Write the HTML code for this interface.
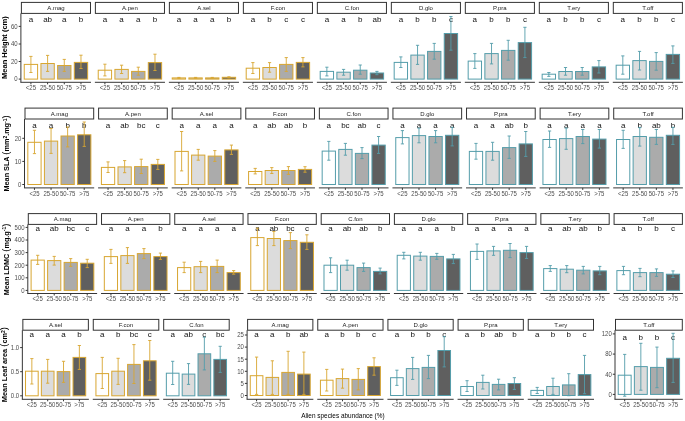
<!DOCTYPE html>
<html><head><meta charset="utf-8"><style>
html,body{margin:0;padding:0;background:#fff;}
svg{display:block;}
svg{will-change:transform;}
text{font-family:"Liberation Sans",sans-serif;}
.tl{font-size:6.9px;fill:#4D4D4D;}
.st{font-size:6px;fill:#1a1a1a;}
.lt{font-size:8px;fill:#111;}
.yt{font-weight:bold;fill:#000;}
.par{font-weight:normal;font-size:9.5px;}
.sup{font-size:5px;}
.xt{font-size:8px;fill:#000;}
</style></head><body>
<svg width="685" height="421" viewBox="0 0 685 421">
<rect width="685" height="421" fill="#fff"/>
<line x1="20.9" y1="13.4" x2="20.9" y2="82.3" stroke="#363636" stroke-width="1"/>
<line x1="18.7" y1="79.1" x2="20.9" y2="79.1" stroke="#363636" stroke-width="1"/>
<text transform="translate(17.7,81.4) scale(0.87,1)" text-anchor="end" class="tl">0</text>
<line x1="18.7" y1="61.5" x2="20.9" y2="61.5" stroke="#363636" stroke-width="1"/>
<text transform="translate(17.7,63.8) scale(0.87,1)" text-anchor="end" class="tl">20</text>
<line x1="18.7" y1="44" x2="20.9" y2="44" stroke="#363636" stroke-width="1"/>
<text transform="translate(17.7,46.3) scale(0.87,1)" text-anchor="end" class="tl">40</text>
<line x1="18.7" y1="26.4" x2="20.9" y2="26.4" stroke="#363636" stroke-width="1"/>
<text transform="translate(17.7,28.7) scale(0.87,1)" text-anchor="end" class="tl">60</text>
<rect x="21.4" y="2.4" width="69.09" height="11" fill="#fff" stroke="#333" stroke-width="1"/>
<text x="55.94" y="9.9" text-anchor="middle" class="st">A.mag</text>
<line x1="20.4" y1="82.3" x2="90.99" y2="82.3" stroke="#363636" stroke-width="1"/>
<text x="30.91" y="21.8" text-anchor="middle" class="lt">a</text>
<text x="47.6" y="21.8" text-anchor="middle" class="lt">ab</text>
<text x="64.29" y="21.8" text-anchor="middle" class="lt">a</text>
<text x="80.98" y="21.8" text-anchor="middle" class="lt">b</text>
<rect x="24.24" y="64.4" width="13.35" height="14.7" fill="#FFFFFF" stroke="#D8A631" stroke-width="1"/>
<path d="M29.31 56.4H32.51M30.91 56.4V72.5M29.31 72.5H32.51" stroke="#D8A631" stroke-width="0.9" fill="none"/>
<line x1="30.91" y1="82.3" x2="30.91" y2="84.3" stroke="#363636" stroke-width="1"/>
<text transform="translate(30.91,89.5) scale(0.87,1)" text-anchor="middle" class="tl">&lt;25</text>
<rect x="40.93" y="63.5" width="13.35" height="15.6" fill="#DCDCDC" stroke="#D8A631" stroke-width="1"/>
<path d="M46 55.4H49.2M47.6 55.4V71.4M46 71.4H49.2" stroke="#D8A631" stroke-width="0.9" fill="none"/>
<line x1="47.6" y1="82.3" x2="47.6" y2="84.3" stroke="#363636" stroke-width="1"/>
<text transform="translate(47.6,89.5) scale(0.87,1)" text-anchor="middle" class="tl">25-50</text>
<rect x="57.61" y="65.5" width="13.35" height="13.6" fill="#ABABAB" stroke="#D8A631" stroke-width="1"/>
<path d="M62.69 59.4H65.89M64.29 59.4V71.4M62.69 71.4H65.89" stroke="#D8A631" stroke-width="0.9" fill="none"/>
<line x1="64.29" y1="82.3" x2="64.29" y2="84.3" stroke="#363636" stroke-width="1"/>
<text transform="translate(64.29,89.5) scale(0.87,1)" text-anchor="middle" class="tl">50-75</text>
<rect x="74.3" y="62.4" width="13.35" height="16.7" fill="#5F5F5F" stroke="#D8A631" stroke-width="1"/>
<path d="M79.38 55.2H82.58M80.98 55.2V68.5M79.38 68.5H82.58" stroke="#D8A631" stroke-width="0.9" fill="none"/>
<line x1="80.98" y1="82.3" x2="80.98" y2="84.3" stroke="#363636" stroke-width="1"/>
<text transform="translate(80.98,89.5) scale(0.87,1)" text-anchor="middle" class="tl">&gt;75</text>
<rect x="95.39" y="2.4" width="69.09" height="11" fill="#fff" stroke="#333" stroke-width="1"/>
<text x="129.93" y="9.9" text-anchor="middle" class="st">A.pen</text>
<line x1="94.89" y1="82.3" x2="164.98" y2="82.3" stroke="#363636" stroke-width="1"/>
<text x="104.9" y="21.8" text-anchor="middle" class="lt">a</text>
<text x="121.59" y="21.8" text-anchor="middle" class="lt">a</text>
<text x="138.28" y="21.8" text-anchor="middle" class="lt">a</text>
<text x="154.97" y="21.8" text-anchor="middle" class="lt">b</text>
<rect x="98.23" y="70.2" width="13.35" height="8.9" fill="#FFFFFF" stroke="#D8A631" stroke-width="1"/>
<path d="M103.3 64.2H106.5M104.9 64.2V75.9M103.3 75.9H106.5" stroke="#D8A631" stroke-width="0.9" fill="none"/>
<line x1="104.9" y1="82.3" x2="104.9" y2="84.3" stroke="#363636" stroke-width="1"/>
<text transform="translate(104.9,89.5) scale(0.87,1)" text-anchor="middle" class="tl">&lt;25</text>
<rect x="114.91" y="69.4" width="13.35" height="9.7" fill="#DCDCDC" stroke="#D8A631" stroke-width="1"/>
<path d="M119.99 65.2H123.19M121.59 65.2V73.5M119.99 73.5H123.19" stroke="#D8A631" stroke-width="0.9" fill="none"/>
<line x1="121.59" y1="82.3" x2="121.59" y2="84.3" stroke="#363636" stroke-width="1"/>
<text transform="translate(121.59,89.5) scale(0.87,1)" text-anchor="middle" class="tl">25-50</text>
<rect x="131.6" y="71.4" width="13.35" height="7.7" fill="#ABABAB" stroke="#D8A631" stroke-width="1"/>
<path d="M136.68 67.2H139.88M138.28 67.2V75.2M136.68 75.2H139.88" stroke="#D8A631" stroke-width="0.9" fill="none"/>
<line x1="138.28" y1="82.3" x2="138.28" y2="84.3" stroke="#363636" stroke-width="1"/>
<text transform="translate(138.28,89.5) scale(0.87,1)" text-anchor="middle" class="tl">50-75</text>
<rect x="148.29" y="62.6" width="13.35" height="16.5" fill="#5F5F5F" stroke="#D8A631" stroke-width="1"/>
<path d="M153.37 54.2H156.57M154.97 54.2V70.5M153.37 70.5H156.57" stroke="#D8A631" stroke-width="0.9" fill="none"/>
<line x1="154.97" y1="82.3" x2="154.97" y2="84.3" stroke="#363636" stroke-width="1"/>
<text transform="translate(154.97,89.5) scale(0.87,1)" text-anchor="middle" class="tl">&gt;75</text>
<rect x="169.38" y="2.4" width="69.09" height="11" fill="#fff" stroke="#333" stroke-width="1"/>
<text x="203.92" y="9.9" text-anchor="middle" class="st">A.sel</text>
<line x1="168.88" y1="82.3" x2="238.97" y2="82.3" stroke="#363636" stroke-width="1"/>
<text x="178.89" y="21.8" text-anchor="middle" class="lt">a</text>
<text x="195.58" y="21.8" text-anchor="middle" class="lt">a</text>
<text x="212.27" y="21.8" text-anchor="middle" class="lt">a</text>
<text x="228.95" y="21.8" text-anchor="middle" class="lt">b</text>
<rect x="172.22" y="77.9" width="13.35" height="1.2" fill="#FFFFFF" stroke="#D8A631" stroke-width="1"/>
<path d="M177.29 77.4H180.49M178.89 77.4V78.4M177.29 78.4H180.49" stroke="#D8A631" stroke-width="0.9" fill="none"/>
<line x1="178.89" y1="82.3" x2="178.89" y2="84.3" stroke="#363636" stroke-width="1"/>
<text transform="translate(178.89,89.5) scale(0.87,1)" text-anchor="middle" class="tl">&lt;25</text>
<rect x="188.9" y="77.9" width="13.35" height="1.2" fill="#DCDCDC" stroke="#D8A631" stroke-width="1"/>
<path d="M193.98 77.4H197.18M195.58 77.4V78.4M193.98 78.4H197.18" stroke="#D8A631" stroke-width="0.9" fill="none"/>
<line x1="195.58" y1="82.3" x2="195.58" y2="84.3" stroke="#363636" stroke-width="1"/>
<text transform="translate(195.58,89.5) scale(0.87,1)" text-anchor="middle" class="tl">25-50</text>
<rect x="205.59" y="77.9" width="13.35" height="1.2" fill="#ABABAB" stroke="#D8A631" stroke-width="1"/>
<path d="M210.67 77.4H213.87M212.27 77.4V78.4M210.67 78.4H213.87" stroke="#D8A631" stroke-width="0.9" fill="none"/>
<line x1="212.27" y1="82.3" x2="212.27" y2="84.3" stroke="#363636" stroke-width="1"/>
<text transform="translate(212.27,89.5) scale(0.87,1)" text-anchor="middle" class="tl">50-75</text>
<rect x="222.28" y="77.3" width="13.35" height="1.8" fill="#5F5F5F" stroke="#D8A631" stroke-width="1"/>
<path d="M227.35 76.8H230.55M228.95 76.8V77.9M227.35 77.9H230.55" stroke="#D8A631" stroke-width="0.9" fill="none"/>
<line x1="228.95" y1="82.3" x2="228.95" y2="84.3" stroke="#363636" stroke-width="1"/>
<text transform="translate(228.95,89.5) scale(0.87,1)" text-anchor="middle" class="tl">&gt;75</text>
<rect x="243.37" y="2.4" width="69.09" height="11" fill="#fff" stroke="#333" stroke-width="1"/>
<text x="277.91" y="9.9" text-anchor="middle" class="st">F.con</text>
<line x1="242.87" y1="82.3" x2="312.96" y2="82.3" stroke="#363636" stroke-width="1"/>
<text x="252.88" y="21.8" text-anchor="middle" class="lt">a</text>
<text x="269.57" y="21.8" text-anchor="middle" class="lt">b</text>
<text x="286.26" y="21.8" text-anchor="middle" class="lt">c</text>
<text x="302.94" y="21.8" text-anchor="middle" class="lt">c</text>
<rect x="246.2" y="68.2" width="13.35" height="10.9" fill="#FFFFFF" stroke="#D8A631" stroke-width="1"/>
<path d="M251.28 62.6H254.48M252.88 62.6V73.5M251.28 73.5H254.48" stroke="#D8A631" stroke-width="0.9" fill="none"/>
<line x1="252.88" y1="82.3" x2="252.88" y2="84.3" stroke="#363636" stroke-width="1"/>
<text transform="translate(252.88,89.5) scale(0.87,1)" text-anchor="middle" class="tl">&lt;25</text>
<rect x="262.89" y="67.5" width="13.35" height="11.6" fill="#DCDCDC" stroke="#D8A631" stroke-width="1"/>
<path d="M267.97 62.6H271.17M269.57 62.6V72.2M267.97 72.2H271.17" stroke="#D8A631" stroke-width="0.9" fill="none"/>
<line x1="269.57" y1="82.3" x2="269.57" y2="84.3" stroke="#363636" stroke-width="1"/>
<text transform="translate(269.57,89.5) scale(0.87,1)" text-anchor="middle" class="tl">25-50</text>
<rect x="279.58" y="64.4" width="13.35" height="14.7" fill="#ABABAB" stroke="#D8A631" stroke-width="1"/>
<path d="M284.66 57.6H287.86M286.26 57.6V71.4M284.66 71.4H287.86" stroke="#D8A631" stroke-width="0.9" fill="none"/>
<line x1="286.26" y1="82.3" x2="286.26" y2="84.3" stroke="#363636" stroke-width="1"/>
<text transform="translate(286.26,89.5) scale(0.87,1)" text-anchor="middle" class="tl">50-75</text>
<rect x="296.27" y="62.4" width="13.35" height="16.7" fill="#5F5F5F" stroke="#D8A631" stroke-width="1"/>
<path d="M301.34 57.6H304.54M302.94 57.6V66.9M301.34 66.9H304.54" stroke="#D8A631" stroke-width="0.9" fill="none"/>
<line x1="302.94" y1="82.3" x2="302.94" y2="84.3" stroke="#363636" stroke-width="1"/>
<text transform="translate(302.94,89.5) scale(0.87,1)" text-anchor="middle" class="tl">&gt;75</text>
<rect x="317.36" y="2.4" width="69.09" height="11" fill="#fff" stroke="#333" stroke-width="1"/>
<text x="351.9" y="9.9" text-anchor="middle" class="st">C.fon</text>
<line x1="316.86" y1="82.3" x2="386.94" y2="82.3" stroke="#363636" stroke-width="1"/>
<text x="326.87" y="21.8" text-anchor="middle" class="lt">a</text>
<text x="343.56" y="21.8" text-anchor="middle" class="lt">a</text>
<text x="360.24" y="21.8" text-anchor="middle" class="lt">b</text>
<text x="376.93" y="21.8" text-anchor="middle" class="lt">ab</text>
<rect x="320.19" y="71.4" width="13.35" height="7.7" fill="#FFFFFF" stroke="#549DAA" stroke-width="1"/>
<path d="M325.27 67.2H328.47M326.87 67.2V75.9M325.27 75.9H328.47" stroke="#549DAA" stroke-width="0.9" fill="none"/>
<line x1="326.87" y1="82.3" x2="326.87" y2="84.3" stroke="#363636" stroke-width="1"/>
<text transform="translate(326.87,89.5) scale(0.87,1)" text-anchor="middle" class="tl">&lt;25</text>
<rect x="336.88" y="72.2" width="13.35" height="6.9" fill="#DCDCDC" stroke="#549DAA" stroke-width="1"/>
<path d="M341.96 69.4H345.16M343.56 69.4V75.2M341.96 75.2H345.16" stroke="#549DAA" stroke-width="0.9" fill="none"/>
<line x1="343.56" y1="82.3" x2="343.56" y2="84.3" stroke="#363636" stroke-width="1"/>
<text transform="translate(343.56,89.5) scale(0.87,1)" text-anchor="middle" class="tl">25-50</text>
<rect x="353.57" y="70.2" width="13.35" height="8.9" fill="#ABABAB" stroke="#549DAA" stroke-width="1"/>
<path d="M358.64 65H361.84M360.24 65V74.2M358.64 74.2H361.84" stroke="#549DAA" stroke-width="0.9" fill="none"/>
<line x1="360.24" y1="82.3" x2="360.24" y2="84.3" stroke="#363636" stroke-width="1"/>
<text transform="translate(360.24,89.5) scale(0.87,1)" text-anchor="middle" class="tl">50-75</text>
<rect x="370.26" y="73" width="13.35" height="6.1" fill="#5F5F5F" stroke="#549DAA" stroke-width="1"/>
<path d="M375.33 71.4H378.53M376.93 71.4V74.7M375.33 74.7H378.53" stroke="#549DAA" stroke-width="0.9" fill="none"/>
<line x1="376.93" y1="82.3" x2="376.93" y2="84.3" stroke="#363636" stroke-width="1"/>
<text transform="translate(376.93,89.5) scale(0.87,1)" text-anchor="middle" class="tl">&gt;75</text>
<rect x="391.34" y="2.4" width="69.09" height="11" fill="#fff" stroke="#333" stroke-width="1"/>
<text x="425.89" y="9.9" text-anchor="middle" class="st">D.glo</text>
<line x1="390.84" y1="82.3" x2="460.93" y2="82.3" stroke="#363636" stroke-width="1"/>
<text x="400.86" y="21.8" text-anchor="middle" class="lt">a</text>
<text x="417.54" y="21.8" text-anchor="middle" class="lt">b</text>
<text x="434.23" y="21.8" text-anchor="middle" class="lt">b</text>
<text x="450.92" y="21.8" text-anchor="middle" class="lt">c</text>
<rect x="394.18" y="62.4" width="13.35" height="16.7" fill="#FFFFFF" stroke="#549DAA" stroke-width="1"/>
<path d="M399.26 56.9H402.46M400.86 56.9V67.5M399.26 67.5H402.46" stroke="#549DAA" stroke-width="0.9" fill="none"/>
<line x1="400.86" y1="82.3" x2="400.86" y2="84.3" stroke="#363636" stroke-width="1"/>
<text transform="translate(400.86,89.5) scale(0.87,1)" text-anchor="middle" class="tl">&lt;25</text>
<rect x="410.87" y="55.1" width="13.35" height="24" fill="#DCDCDC" stroke="#549DAA" stroke-width="1"/>
<path d="M415.94 45.3H419.14M417.54 45.3V64.4M415.94 64.4H419.14" stroke="#549DAA" stroke-width="0.9" fill="none"/>
<line x1="417.54" y1="82.3" x2="417.54" y2="84.3" stroke="#363636" stroke-width="1"/>
<text transform="translate(417.54,89.5) scale(0.87,1)" text-anchor="middle" class="tl">25-50</text>
<rect x="427.56" y="51.4" width="13.35" height="27.7" fill="#ABABAB" stroke="#549DAA" stroke-width="1"/>
<path d="M432.63 43.4H435.83M434.23 43.4V59.2M432.63 59.2H435.83" stroke="#549DAA" stroke-width="0.9" fill="none"/>
<line x1="434.23" y1="82.3" x2="434.23" y2="84.3" stroke="#363636" stroke-width="1"/>
<text transform="translate(434.23,89.5) scale(0.87,1)" text-anchor="middle" class="tl">50-75</text>
<rect x="444.25" y="33.5" width="13.35" height="45.6" fill="#5F5F5F" stroke="#549DAA" stroke-width="1"/>
<path d="M449.32 16.5H452.52M450.92 16.5V50.2M449.32 50.2H452.52" stroke="#549DAA" stroke-width="0.9" fill="none"/>
<line x1="450.92" y1="82.3" x2="450.92" y2="84.3" stroke="#363636" stroke-width="1"/>
<text transform="translate(450.92,89.5) scale(0.87,1)" text-anchor="middle" class="tl">&gt;75</text>
<rect x="465.33" y="2.4" width="69.09" height="11" fill="#fff" stroke="#333" stroke-width="1"/>
<text x="499.88" y="9.9" text-anchor="middle" class="st">P.pra</text>
<line x1="464.83" y1="82.3" x2="534.92" y2="82.3" stroke="#363636" stroke-width="1"/>
<text x="474.85" y="21.8" text-anchor="middle" class="lt">a</text>
<text x="491.53" y="21.8" text-anchor="middle" class="lt">b</text>
<text x="508.22" y="21.8" text-anchor="middle" class="lt">b</text>
<text x="524.91" y="21.8" text-anchor="middle" class="lt">c</text>
<rect x="468.17" y="61.1" width="13.35" height="18" fill="#FFFFFF" stroke="#549DAA" stroke-width="1"/>
<path d="M473.25 53.6H476.45M474.85 53.6V68.4M473.25 68.4H476.45" stroke="#549DAA" stroke-width="0.9" fill="none"/>
<line x1="474.85" y1="82.3" x2="474.85" y2="84.3" stroke="#363636" stroke-width="1"/>
<text transform="translate(474.85,89.5) scale(0.87,1)" text-anchor="middle" class="tl">&lt;25</text>
<rect x="484.86" y="53.6" width="13.35" height="25.5" fill="#DCDCDC" stroke="#549DAA" stroke-width="1"/>
<path d="M489.93 43.4H493.13M491.53 43.4V63.9M489.93 63.9H493.13" stroke="#549DAA" stroke-width="0.9" fill="none"/>
<line x1="491.53" y1="82.3" x2="491.53" y2="84.3" stroke="#363636" stroke-width="1"/>
<text transform="translate(491.53,89.5) scale(0.87,1)" text-anchor="middle" class="tl">25-50</text>
<rect x="501.55" y="50.4" width="13.35" height="28.7" fill="#ABABAB" stroke="#549DAA" stroke-width="1"/>
<path d="M506.62 40.3H509.82M508.22 40.3V60.2M506.62 60.2H509.82" stroke="#549DAA" stroke-width="0.9" fill="none"/>
<line x1="508.22" y1="82.3" x2="508.22" y2="84.3" stroke="#363636" stroke-width="1"/>
<text transform="translate(508.22,89.5) scale(0.87,1)" text-anchor="middle" class="tl">50-75</text>
<rect x="518.23" y="42.6" width="13.35" height="36.5" fill="#5F5F5F" stroke="#549DAA" stroke-width="1"/>
<path d="M523.31 27.3H526.51M524.91 27.3V57.6M523.31 57.6H526.51" stroke="#549DAA" stroke-width="0.9" fill="none"/>
<line x1="524.91" y1="82.3" x2="524.91" y2="84.3" stroke="#363636" stroke-width="1"/>
<text transform="translate(524.91,89.5) scale(0.87,1)" text-anchor="middle" class="tl">&gt;75</text>
<rect x="539.32" y="2.4" width="69.09" height="11" fill="#fff" stroke="#333" stroke-width="1"/>
<text x="573.87" y="9.9" text-anchor="middle" class="st">T.ery</text>
<line x1="538.82" y1="82.3" x2="608.91" y2="82.3" stroke="#363636" stroke-width="1"/>
<text x="548.83" y="21.8" text-anchor="middle" class="lt">a</text>
<text x="565.52" y="21.8" text-anchor="middle" class="lt">b</text>
<text x="582.21" y="21.8" text-anchor="middle" class="lt">b</text>
<text x="598.9" y="21.8" text-anchor="middle" class="lt">c</text>
<rect x="542.16" y="74.2" width="13.35" height="4.9" fill="#FFFFFF" stroke="#549DAA" stroke-width="1"/>
<path d="M547.23 72.5H550.43M548.83 72.5V76.4M547.23 76.4H550.43" stroke="#549DAA" stroke-width="0.9" fill="none"/>
<line x1="548.83" y1="82.3" x2="548.83" y2="84.3" stroke="#363636" stroke-width="1"/>
<text transform="translate(548.83,89.5) scale(0.87,1)" text-anchor="middle" class="tl">&lt;25</text>
<rect x="558.85" y="71.5" width="13.35" height="7.6" fill="#DCDCDC" stroke="#549DAA" stroke-width="1"/>
<path d="M563.92 67.5H567.12M565.52 67.5V75.2M563.92 75.2H567.12" stroke="#549DAA" stroke-width="0.9" fill="none"/>
<line x1="565.52" y1="82.3" x2="565.52" y2="84.3" stroke="#363636" stroke-width="1"/>
<text transform="translate(565.52,89.5) scale(0.87,1)" text-anchor="middle" class="tl">25-50</text>
<rect x="575.54" y="71.5" width="13.35" height="7.6" fill="#ABABAB" stroke="#549DAA" stroke-width="1"/>
<path d="M580.61 67.5H583.81M582.21 67.5V75.2M580.61 75.2H583.81" stroke="#549DAA" stroke-width="0.9" fill="none"/>
<line x1="582.21" y1="82.3" x2="582.21" y2="84.3" stroke="#363636" stroke-width="1"/>
<text transform="translate(582.21,89.5) scale(0.87,1)" text-anchor="middle" class="tl">50-75</text>
<rect x="592.22" y="66.9" width="13.35" height="12.2" fill="#5F5F5F" stroke="#549DAA" stroke-width="1"/>
<path d="M597.3 60.6H600.5M598.9 60.6V73M597.3 73H600.5" stroke="#549DAA" stroke-width="0.9" fill="none"/>
<line x1="598.9" y1="82.3" x2="598.9" y2="84.3" stroke="#363636" stroke-width="1"/>
<text transform="translate(598.9,89.5) scale(0.87,1)" text-anchor="middle" class="tl">&gt;75</text>
<rect x="613.31" y="2.4" width="69.09" height="11" fill="#fff" stroke="#333" stroke-width="1"/>
<text x="647.86" y="9.9" text-anchor="middle" class="st">T.off</text>
<line x1="612.81" y1="82.3" x2="682.9" y2="82.3" stroke="#363636" stroke-width="1"/>
<text x="622.82" y="21.8" text-anchor="middle" class="lt">a</text>
<text x="639.51" y="21.8" text-anchor="middle" class="lt">b</text>
<text x="656.2" y="21.8" text-anchor="middle" class="lt">b</text>
<text x="672.89" y="21.8" text-anchor="middle" class="lt">c</text>
<rect x="616.15" y="65.2" width="13.35" height="13.9" fill="#FFFFFF" stroke="#549DAA" stroke-width="1"/>
<path d="M621.22 55.9H624.42M622.82 55.9V74.2M621.22 74.2H624.42" stroke="#549DAA" stroke-width="0.9" fill="none"/>
<line x1="622.82" y1="82.3" x2="622.82" y2="84.3" stroke="#363636" stroke-width="1"/>
<text transform="translate(622.82,89.5) scale(0.87,1)" text-anchor="middle" class="tl">&lt;25</text>
<rect x="632.84" y="60.6" width="13.35" height="18.5" fill="#DCDCDC" stroke="#549DAA" stroke-width="1"/>
<path d="M637.91 51.4H641.11M639.51 51.4V70M637.91 70H641.11" stroke="#549DAA" stroke-width="0.9" fill="none"/>
<line x1="639.51" y1="82.3" x2="639.51" y2="84.3" stroke="#363636" stroke-width="1"/>
<text transform="translate(639.51,89.5) scale(0.87,1)" text-anchor="middle" class="tl">25-50</text>
<rect x="649.52" y="61.4" width="13.35" height="17.7" fill="#ABABAB" stroke="#549DAA" stroke-width="1"/>
<path d="M654.6 52.6H657.8M656.2 52.6V70.2M654.6 70.2H657.8" stroke="#549DAA" stroke-width="0.9" fill="none"/>
<line x1="656.2" y1="82.3" x2="656.2" y2="84.3" stroke="#363636" stroke-width="1"/>
<text transform="translate(656.2,89.5) scale(0.87,1)" text-anchor="middle" class="tl">50-75</text>
<rect x="666.21" y="54.4" width="13.35" height="24.7" fill="#5F5F5F" stroke="#549DAA" stroke-width="1"/>
<path d="M671.29 45.9H674.49M672.89 45.9V63.4M671.29 63.4H674.49" stroke="#549DAA" stroke-width="0.9" fill="none"/>
<line x1="672.89" y1="82.3" x2="672.89" y2="84.3" stroke="#363636" stroke-width="1"/>
<text transform="translate(672.89,89.5) scale(0.87,1)" text-anchor="middle" class="tl">&gt;75</text>
<line x1="24.5" y1="119" x2="24.5" y2="187.9" stroke="#363636" stroke-width="1"/>
<line x1="22.3" y1="184.5" x2="24.5" y2="184.5" stroke="#363636" stroke-width="1"/>
<text transform="translate(21.3,186.8) scale(0.87,1)" text-anchor="end" class="tl">0</text>
<line x1="22.3" y1="161.4" x2="24.5" y2="161.4" stroke="#363636" stroke-width="1"/>
<text transform="translate(21.3,163.7) scale(0.87,1)" text-anchor="end" class="tl">10</text>
<line x1="22.3" y1="138.3" x2="24.5" y2="138.3" stroke="#363636" stroke-width="1"/>
<text transform="translate(21.3,140.6) scale(0.87,1)" text-anchor="end" class="tl">20</text>
<rect x="25" y="108.1" width="68.69" height="10.9" fill="#fff" stroke="#333" stroke-width="1"/>
<text x="59.34" y="115.55" text-anchor="middle" class="st">A.mag</text>
<line x1="24" y1="187.9" x2="94.19" y2="187.9" stroke="#363636" stroke-width="1"/>
<text x="34.46" y="127.7" text-anchor="middle" class="lt">a</text>
<text x="51.05" y="127.7" text-anchor="middle" class="lt">a</text>
<text x="67.64" y="127.7" text-anchor="middle" class="lt">b</text>
<text x="84.23" y="127.7" text-anchor="middle" class="lt">b</text>
<rect x="27.82" y="142.3" width="13.27" height="42.2" fill="#FFFFFF" stroke="#D8A631" stroke-width="1"/>
<path d="M32.86 130.3H36.06M34.46 130.3V153.6M32.86 153.6H36.06" stroke="#D8A631" stroke-width="0.9" fill="none"/>
<line x1="34.46" y1="187.9" x2="34.46" y2="189.9" stroke="#363636" stroke-width="1"/>
<text transform="translate(34.46,196) scale(0.87,1)" text-anchor="middle" class="tl">&lt;25</text>
<rect x="44.41" y="141.1" width="13.27" height="43.4" fill="#DCDCDC" stroke="#D8A631" stroke-width="1"/>
<path d="M49.45 128.5H52.65M51.05 128.5V153.4M49.45 153.4H52.65" stroke="#D8A631" stroke-width="0.9" fill="none"/>
<line x1="51.05" y1="187.9" x2="51.05" y2="189.9" stroke="#363636" stroke-width="1"/>
<text transform="translate(51.05,196) scale(0.87,1)" text-anchor="middle" class="tl">25-50</text>
<rect x="61" y="136" width="13.27" height="48.5" fill="#ABABAB" stroke="#D8A631" stroke-width="1"/>
<path d="M66.04 127H69.24M67.64 127V146.9M66.04 146.9H69.24" stroke="#D8A631" stroke-width="0.9" fill="none"/>
<line x1="67.64" y1="187.9" x2="67.64" y2="189.9" stroke="#363636" stroke-width="1"/>
<text transform="translate(67.64,196) scale(0.87,1)" text-anchor="middle" class="tl">50-75</text>
<rect x="77.6" y="134.8" width="13.27" height="49.7" fill="#5F5F5F" stroke="#D8A631" stroke-width="1"/>
<path d="M82.63 122H85.83M84.23 122V146.4M82.63 146.4H85.83" stroke="#D8A631" stroke-width="0.9" fill="none"/>
<line x1="84.23" y1="187.9" x2="84.23" y2="189.9" stroke="#363636" stroke-width="1"/>
<text transform="translate(84.23,196) scale(0.87,1)" text-anchor="middle" class="tl">&gt;75</text>
<rect x="98.59" y="108.1" width="68.69" height="10.9" fill="#fff" stroke="#333" stroke-width="1"/>
<text x="132.93" y="115.55" text-anchor="middle" class="st">A.pen</text>
<line x1="98.09" y1="187.9" x2="167.78" y2="187.9" stroke="#363636" stroke-width="1"/>
<text x="108.04" y="127.7" text-anchor="middle" class="lt">a</text>
<text x="124.64" y="127.7" text-anchor="middle" class="lt">ab</text>
<text x="141.23" y="127.7" text-anchor="middle" class="lt">bc</text>
<text x="157.82" y="127.7" text-anchor="middle" class="lt">c</text>
<rect x="101.41" y="167.4" width="13.27" height="17.1" fill="#FFFFFF" stroke="#D8A631" stroke-width="1"/>
<path d="M106.44 161.9H109.64M108.04 161.9V172.5M106.44 172.5H109.64" stroke="#D8A631" stroke-width="0.9" fill="none"/>
<line x1="108.04" y1="187.9" x2="108.04" y2="189.9" stroke="#363636" stroke-width="1"/>
<text transform="translate(108.04,196) scale(0.87,1)" text-anchor="middle" class="tl">&lt;25</text>
<rect x="118" y="166.9" width="13.27" height="17.6" fill="#DCDCDC" stroke="#D8A631" stroke-width="1"/>
<path d="M123.04 160.6H126.24M124.64 160.6V172.7M123.04 172.7H126.24" stroke="#D8A631" stroke-width="0.9" fill="none"/>
<line x1="124.64" y1="187.9" x2="124.64" y2="189.9" stroke="#363636" stroke-width="1"/>
<text transform="translate(124.64,196) scale(0.87,1)" text-anchor="middle" class="tl">25-50</text>
<rect x="134.59" y="166.6" width="13.27" height="17.9" fill="#ABABAB" stroke="#D8A631" stroke-width="1"/>
<path d="M139.63 159.2H142.83M141.23 159.2V173.5M139.63 173.5H142.83" stroke="#D8A631" stroke-width="0.9" fill="none"/>
<line x1="141.23" y1="187.9" x2="141.23" y2="189.9" stroke="#363636" stroke-width="1"/>
<text transform="translate(141.23,196) scale(0.87,1)" text-anchor="middle" class="tl">50-75</text>
<rect x="151.19" y="164.4" width="13.27" height="20.1" fill="#5F5F5F" stroke="#D8A631" stroke-width="1"/>
<path d="M156.22 159.4H159.42M157.82 159.4V169.4M156.22 169.4H159.42" stroke="#D8A631" stroke-width="0.9" fill="none"/>
<line x1="157.82" y1="187.9" x2="157.82" y2="189.9" stroke="#363636" stroke-width="1"/>
<text transform="translate(157.82,196) scale(0.87,1)" text-anchor="middle" class="tl">&gt;75</text>
<rect x="172.18" y="108.1" width="68.69" height="10.9" fill="#fff" stroke="#333" stroke-width="1"/>
<text x="206.52" y="115.55" text-anchor="middle" class="st">A.sel</text>
<line x1="171.68" y1="187.9" x2="241.37" y2="187.9" stroke="#363636" stroke-width="1"/>
<text x="181.63" y="127.7" text-anchor="middle" class="lt">a</text>
<text x="198.23" y="127.7" text-anchor="middle" class="lt">a</text>
<text x="214.82" y="127.7" text-anchor="middle" class="lt">a</text>
<text x="231.41" y="127.7" text-anchor="middle" class="lt">a</text>
<rect x="175" y="151.4" width="13.27" height="33.1" fill="#FFFFFF" stroke="#D8A631" stroke-width="1"/>
<path d="M180.03 131.5H183.23M181.63 131.5V170.9M180.03 170.9H183.23" stroke="#D8A631" stroke-width="0.9" fill="none"/>
<line x1="181.63" y1="187.9" x2="181.63" y2="189.9" stroke="#363636" stroke-width="1"/>
<text transform="translate(181.63,196) scale(0.87,1)" text-anchor="middle" class="tl">&lt;25</text>
<rect x="191.59" y="155.1" width="13.27" height="29.4" fill="#DCDCDC" stroke="#D8A631" stroke-width="1"/>
<path d="M196.63 149.4H199.83M198.23 149.4V160.2M196.63 160.2H199.83" stroke="#D8A631" stroke-width="0.9" fill="none"/>
<line x1="198.23" y1="187.9" x2="198.23" y2="189.9" stroke="#363636" stroke-width="1"/>
<text transform="translate(198.23,196) scale(0.87,1)" text-anchor="middle" class="tl">25-50</text>
<rect x="208.18" y="156.1" width="13.27" height="28.4" fill="#ABABAB" stroke="#D8A631" stroke-width="1"/>
<path d="M213.22 150.6H216.42M214.82 150.6V161.4M213.22 161.4H216.42" stroke="#D8A631" stroke-width="0.9" fill="none"/>
<line x1="214.82" y1="187.9" x2="214.82" y2="189.9" stroke="#363636" stroke-width="1"/>
<text transform="translate(214.82,196) scale(0.87,1)" text-anchor="middle" class="tl">50-75</text>
<rect x="224.77" y="149.9" width="13.27" height="34.6" fill="#5F5F5F" stroke="#D8A631" stroke-width="1"/>
<path d="M229.81 145.1H233.01M231.41 145.1V154.4M229.81 154.4H233.01" stroke="#D8A631" stroke-width="0.9" fill="none"/>
<line x1="231.41" y1="187.9" x2="231.41" y2="189.9" stroke="#363636" stroke-width="1"/>
<text transform="translate(231.41,196) scale(0.87,1)" text-anchor="middle" class="tl">&gt;75</text>
<rect x="245.77" y="108.1" width="68.69" height="10.9" fill="#fff" stroke="#333" stroke-width="1"/>
<text x="280.11" y="115.55" text-anchor="middle" class="st">F.con</text>
<line x1="245.27" y1="187.9" x2="314.96" y2="187.9" stroke="#363636" stroke-width="1"/>
<text x="255.22" y="127.7" text-anchor="middle" class="lt">a</text>
<text x="271.81" y="127.7" text-anchor="middle" class="lt">ab</text>
<text x="288.41" y="127.7" text-anchor="middle" class="lt">ab</text>
<text x="305" y="127.7" text-anchor="middle" class="lt">b</text>
<rect x="248.59" y="171.5" width="13.27" height="13" fill="#FFFFFF" stroke="#D8A631" stroke-width="1"/>
<path d="M253.62 168.4H256.82M255.22 168.4V173.9M253.62 173.9H256.82" stroke="#D8A631" stroke-width="0.9" fill="none"/>
<line x1="255.22" y1="187.9" x2="255.22" y2="189.9" stroke="#363636" stroke-width="1"/>
<text transform="translate(255.22,196) scale(0.87,1)" text-anchor="middle" class="tl">&lt;25</text>
<rect x="265.18" y="170.5" width="13.27" height="14" fill="#DCDCDC" stroke="#D8A631" stroke-width="1"/>
<path d="M270.21 167.6H273.41M271.81 167.6V173.5M270.21 173.5H273.41" stroke="#D8A631" stroke-width="0.9" fill="none"/>
<line x1="271.81" y1="187.9" x2="271.81" y2="189.9" stroke="#363636" stroke-width="1"/>
<text transform="translate(271.81,196) scale(0.87,1)" text-anchor="middle" class="tl">25-50</text>
<rect x="281.77" y="170.5" width="13.27" height="14" fill="#ABABAB" stroke="#D8A631" stroke-width="1"/>
<path d="M286.81 166.6H290.01M288.41 166.6V174.4M286.81 174.4H290.01" stroke="#D8A631" stroke-width="0.9" fill="none"/>
<line x1="288.41" y1="187.9" x2="288.41" y2="189.9" stroke="#363636" stroke-width="1"/>
<text transform="translate(288.41,196) scale(0.87,1)" text-anchor="middle" class="tl">50-75</text>
<rect x="298.36" y="169.4" width="13.27" height="15.1" fill="#5F5F5F" stroke="#D8A631" stroke-width="1"/>
<path d="M303.4 166.7H306.6M305 166.7V172.2M303.4 172.2H306.6" stroke="#D8A631" stroke-width="0.9" fill="none"/>
<line x1="305" y1="187.9" x2="305" y2="189.9" stroke="#363636" stroke-width="1"/>
<text transform="translate(305,196) scale(0.87,1)" text-anchor="middle" class="tl">&gt;75</text>
<rect x="319.36" y="108.1" width="68.69" height="10.9" fill="#fff" stroke="#333" stroke-width="1"/>
<text x="353.7" y="115.55" text-anchor="middle" class="st">C.fon</text>
<line x1="318.86" y1="187.9" x2="388.54" y2="187.9" stroke="#363636" stroke-width="1"/>
<text x="328.81" y="127.7" text-anchor="middle" class="lt">a</text>
<text x="345.4" y="127.7" text-anchor="middle" class="lt">bc</text>
<text x="362" y="127.7" text-anchor="middle" class="lt">ab</text>
<text x="378.59" y="127.7" text-anchor="middle" class="lt">c</text>
<rect x="322.17" y="151.1" width="13.27" height="33.4" fill="#FFFFFF" stroke="#549DAA" stroke-width="1"/>
<path d="M327.21 141.4H330.41M328.81 141.4V160.2M327.21 160.2H330.41" stroke="#549DAA" stroke-width="0.9" fill="none"/>
<line x1="328.81" y1="187.9" x2="328.81" y2="189.9" stroke="#363636" stroke-width="1"/>
<text transform="translate(328.81,196) scale(0.87,1)" text-anchor="middle" class="tl">&lt;25</text>
<rect x="338.77" y="149.4" width="13.27" height="35.1" fill="#DCDCDC" stroke="#549DAA" stroke-width="1"/>
<path d="M343.8 143.4H347M345.4 143.4V155.2M343.8 155.2H347" stroke="#549DAA" stroke-width="0.9" fill="none"/>
<line x1="345.4" y1="187.9" x2="345.4" y2="189.9" stroke="#363636" stroke-width="1"/>
<text transform="translate(345.4,196) scale(0.87,1)" text-anchor="middle" class="tl">25-50</text>
<rect x="355.36" y="153.4" width="13.27" height="31.1" fill="#ABABAB" stroke="#549DAA" stroke-width="1"/>
<path d="M360.4 147.6H363.6M362 147.6V158.6M360.4 158.6H363.6" stroke="#549DAA" stroke-width="0.9" fill="none"/>
<line x1="362" y1="187.9" x2="362" y2="189.9" stroke="#363636" stroke-width="1"/>
<text transform="translate(362,196) scale(0.87,1)" text-anchor="middle" class="tl">50-75</text>
<rect x="371.95" y="145.1" width="13.27" height="39.4" fill="#5F5F5F" stroke="#549DAA" stroke-width="1"/>
<path d="M376.99 136.5H380.19M378.59 136.5V153.4M376.99 153.4H380.19" stroke="#549DAA" stroke-width="0.9" fill="none"/>
<line x1="378.59" y1="187.9" x2="378.59" y2="189.9" stroke="#363636" stroke-width="1"/>
<text transform="translate(378.59,196) scale(0.87,1)" text-anchor="middle" class="tl">&gt;75</text>
<rect x="392.94" y="108.1" width="68.69" height="10.9" fill="#fff" stroke="#333" stroke-width="1"/>
<text x="427.29" y="115.55" text-anchor="middle" class="st">D.glo</text>
<line x1="392.44" y1="187.9" x2="462.13" y2="187.9" stroke="#363636" stroke-width="1"/>
<text x="402.4" y="127.7" text-anchor="middle" class="lt">a</text>
<text x="418.99" y="127.7" text-anchor="middle" class="lt">a</text>
<text x="435.59" y="127.7" text-anchor="middle" class="lt">a</text>
<text x="452.18" y="127.7" text-anchor="middle" class="lt">a</text>
<rect x="395.76" y="137.6" width="13.27" height="46.9" fill="#FFFFFF" stroke="#549DAA" stroke-width="1"/>
<path d="M400.8 130.6H404M402.4 130.6V143.9M400.8 143.9H404" stroke="#549DAA" stroke-width="0.9" fill="none"/>
<line x1="402.4" y1="187.9" x2="402.4" y2="189.9" stroke="#363636" stroke-width="1"/>
<text transform="translate(402.4,196) scale(0.87,1)" text-anchor="middle" class="tl">&lt;25</text>
<rect x="412.36" y="135.6" width="13.27" height="48.9" fill="#DCDCDC" stroke="#549DAA" stroke-width="1"/>
<path d="M417.39 128.1H420.59M418.99 128.1V142.8M417.39 142.8H420.59" stroke="#549DAA" stroke-width="0.9" fill="none"/>
<line x1="418.99" y1="187.9" x2="418.99" y2="189.9" stroke="#363636" stroke-width="1"/>
<text transform="translate(418.99,196) scale(0.87,1)" text-anchor="middle" class="tl">25-50</text>
<rect x="428.95" y="136.5" width="13.27" height="48" fill="#ABABAB" stroke="#549DAA" stroke-width="1"/>
<path d="M433.99 130.6H437.19M435.59 130.6V142.8M433.99 142.8H437.19" stroke="#549DAA" stroke-width="0.9" fill="none"/>
<line x1="435.59" y1="187.9" x2="435.59" y2="189.9" stroke="#363636" stroke-width="1"/>
<text transform="translate(435.59,196) scale(0.87,1)" text-anchor="middle" class="tl">50-75</text>
<rect x="445.54" y="135.3" width="13.27" height="49.2" fill="#5F5F5F" stroke="#549DAA" stroke-width="1"/>
<path d="M450.58 127.3H453.78M452.18 127.3V145.9M450.58 145.9H453.78" stroke="#549DAA" stroke-width="0.9" fill="none"/>
<line x1="452.18" y1="187.9" x2="452.18" y2="189.9" stroke="#363636" stroke-width="1"/>
<text transform="translate(452.18,196) scale(0.87,1)" text-anchor="middle" class="tl">&gt;75</text>
<rect x="466.53" y="108.1" width="68.69" height="10.9" fill="#fff" stroke="#333" stroke-width="1"/>
<text x="500.88" y="115.55" text-anchor="middle" class="st">P.pra</text>
<line x1="466.03" y1="187.9" x2="535.72" y2="187.9" stroke="#363636" stroke-width="1"/>
<text x="475.99" y="127.7" text-anchor="middle" class="lt">a</text>
<text x="492.58" y="127.7" text-anchor="middle" class="lt">a</text>
<text x="509.17" y="127.7" text-anchor="middle" class="lt">ab</text>
<text x="525.77" y="127.7" text-anchor="middle" class="lt">b</text>
<rect x="469.35" y="151.4" width="13.27" height="33.1" fill="#FFFFFF" stroke="#549DAA" stroke-width="1"/>
<path d="M474.39 143.4H477.59M475.99 143.4V159.2M474.39 159.2H477.59" stroke="#549DAA" stroke-width="0.9" fill="none"/>
<line x1="475.99" y1="187.9" x2="475.99" y2="189.9" stroke="#363636" stroke-width="1"/>
<text transform="translate(475.99,196) scale(0.87,1)" text-anchor="middle" class="tl">&lt;25</text>
<rect x="485.94" y="151.4" width="13.27" height="33.1" fill="#DCDCDC" stroke="#549DAA" stroke-width="1"/>
<path d="M490.98 142.3H494.18M492.58 142.3V160.2M490.98 160.2H494.18" stroke="#549DAA" stroke-width="0.9" fill="none"/>
<line x1="492.58" y1="187.9" x2="492.58" y2="189.9" stroke="#363636" stroke-width="1"/>
<text transform="translate(492.58,196) scale(0.87,1)" text-anchor="middle" class="tl">25-50</text>
<rect x="502.54" y="147.6" width="13.27" height="36.9" fill="#ABABAB" stroke="#549DAA" stroke-width="1"/>
<path d="M507.57 136H510.77M509.17 136V158.4M507.57 158.4H510.77" stroke="#549DAA" stroke-width="0.9" fill="none"/>
<line x1="509.17" y1="187.9" x2="509.17" y2="189.9" stroke="#363636" stroke-width="1"/>
<text transform="translate(509.17,196) scale(0.87,1)" text-anchor="middle" class="tl">50-75</text>
<rect x="519.13" y="143.9" width="13.27" height="40.6" fill="#5F5F5F" stroke="#549DAA" stroke-width="1"/>
<path d="M524.17 131.5H527.37M525.77 131.5V156.4M524.17 156.4H527.37" stroke="#549DAA" stroke-width="0.9" fill="none"/>
<line x1="525.77" y1="187.9" x2="525.77" y2="189.9" stroke="#363636" stroke-width="1"/>
<text transform="translate(525.77,196) scale(0.87,1)" text-anchor="middle" class="tl">&gt;75</text>
<rect x="540.12" y="108.1" width="68.69" height="10.9" fill="#fff" stroke="#333" stroke-width="1"/>
<text x="574.47" y="115.55" text-anchor="middle" class="st">T.ery</text>
<line x1="539.62" y1="187.9" x2="609.31" y2="187.9" stroke="#363636" stroke-width="1"/>
<text x="549.58" y="127.7" text-anchor="middle" class="lt">a</text>
<text x="566.17" y="127.7" text-anchor="middle" class="lt">a</text>
<text x="582.76" y="127.7" text-anchor="middle" class="lt">a</text>
<text x="599.36" y="127.7" text-anchor="middle" class="lt">a</text>
<rect x="542.94" y="139.5" width="13.27" height="45" fill="#FFFFFF" stroke="#549DAA" stroke-width="1"/>
<path d="M547.98 131H551.18M549.58 131V147.4M547.98 147.4H551.18" stroke="#549DAA" stroke-width="0.9" fill="none"/>
<line x1="549.58" y1="187.9" x2="549.58" y2="189.9" stroke="#363636" stroke-width="1"/>
<text transform="translate(549.58,196) scale(0.87,1)" text-anchor="middle" class="tl">&lt;25</text>
<rect x="559.53" y="138.6" width="13.27" height="45.9" fill="#DCDCDC" stroke="#549DAA" stroke-width="1"/>
<path d="M564.57 128.1H567.77M566.17 128.1V149.3M564.57 149.3H567.77" stroke="#549DAA" stroke-width="0.9" fill="none"/>
<line x1="566.17" y1="187.9" x2="566.17" y2="189.9" stroke="#363636" stroke-width="1"/>
<text transform="translate(566.17,196) scale(0.87,1)" text-anchor="middle" class="tl">25-50</text>
<rect x="576.13" y="136.5" width="13.27" height="48" fill="#ABABAB" stroke="#549DAA" stroke-width="1"/>
<path d="M581.16 129.5H584.36M582.76 129.5V143.6M581.16 143.6H584.36" stroke="#549DAA" stroke-width="0.9" fill="none"/>
<line x1="582.76" y1="187.9" x2="582.76" y2="189.9" stroke="#363636" stroke-width="1"/>
<text transform="translate(582.76,196) scale(0.87,1)" text-anchor="middle" class="tl">50-75</text>
<rect x="592.72" y="139.1" width="13.27" height="45.4" fill="#5F5F5F" stroke="#549DAA" stroke-width="1"/>
<path d="M597.76 129.5H600.96M599.36 129.5V148.1M597.76 148.1H600.96" stroke="#549DAA" stroke-width="0.9" fill="none"/>
<line x1="599.36" y1="187.9" x2="599.36" y2="189.9" stroke="#363636" stroke-width="1"/>
<text transform="translate(599.36,196) scale(0.87,1)" text-anchor="middle" class="tl">&gt;75</text>
<rect x="613.71" y="108.1" width="68.69" height="10.9" fill="#fff" stroke="#333" stroke-width="1"/>
<text x="648.06" y="115.55" text-anchor="middle" class="st">T.off</text>
<line x1="613.21" y1="187.9" x2="682.9" y2="187.9" stroke="#363636" stroke-width="1"/>
<text x="623.17" y="127.7" text-anchor="middle" class="lt">a</text>
<text x="639.76" y="127.7" text-anchor="middle" class="lt">b</text>
<text x="656.35" y="127.7" text-anchor="middle" class="lt">ab</text>
<text x="672.94" y="127.7" text-anchor="middle" class="lt">b</text>
<rect x="616.53" y="139.5" width="13.27" height="45" fill="#FFFFFF" stroke="#549DAA" stroke-width="1"/>
<path d="M621.57 130.3H624.77M623.17 130.3V148.4M621.57 148.4H624.77" stroke="#549DAA" stroke-width="0.9" fill="none"/>
<line x1="623.17" y1="187.9" x2="623.17" y2="189.9" stroke="#363636" stroke-width="1"/>
<text transform="translate(623.17,196) scale(0.87,1)" text-anchor="middle" class="tl">&lt;25</text>
<rect x="633.12" y="136.5" width="13.27" height="48" fill="#DCDCDC" stroke="#549DAA" stroke-width="1"/>
<path d="M638.16 127.6H641.36M639.76 127.6V146.1M638.16 146.1H641.36" stroke="#549DAA" stroke-width="0.9" fill="none"/>
<line x1="639.76" y1="187.9" x2="639.76" y2="189.9" stroke="#363636" stroke-width="1"/>
<text transform="translate(639.76,196) scale(0.87,1)" text-anchor="middle" class="tl">25-50</text>
<rect x="649.71" y="137.3" width="13.27" height="47.2" fill="#ABABAB" stroke="#549DAA" stroke-width="1"/>
<path d="M654.75 129.5H657.95M656.35 129.5V144.4M654.75 144.4H657.95" stroke="#549DAA" stroke-width="0.9" fill="none"/>
<line x1="656.35" y1="187.9" x2="656.35" y2="189.9" stroke="#363636" stroke-width="1"/>
<text transform="translate(656.35,196) scale(0.87,1)" text-anchor="middle" class="tl">50-75</text>
<rect x="666.31" y="135.3" width="13.27" height="49.2" fill="#5F5F5F" stroke="#549DAA" stroke-width="1"/>
<path d="M671.34 127.3H674.54M672.94 127.3V144.4M671.34 144.4H674.54" stroke="#549DAA" stroke-width="0.9" fill="none"/>
<line x1="672.94" y1="187.9" x2="672.94" y2="189.9" stroke="#363636" stroke-width="1"/>
<text transform="translate(672.94,196) scale(0.87,1)" text-anchor="middle" class="tl">&gt;75</text>
<line x1="27.8" y1="224.4" x2="27.8" y2="293.5" stroke="#363636" stroke-width="1"/>
<line x1="25.6" y1="290.4" x2="27.8" y2="290.4" stroke="#363636" stroke-width="1"/>
<text transform="translate(24.6,292.7) scale(0.87,1)" text-anchor="end" class="tl">0</text>
<line x1="25.6" y1="277.8" x2="27.8" y2="277.8" stroke="#363636" stroke-width="1"/>
<text transform="translate(24.6,280.1) scale(0.87,1)" text-anchor="end" class="tl">100</text>
<line x1="25.6" y1="265.2" x2="27.8" y2="265.2" stroke="#363636" stroke-width="1"/>
<text transform="translate(24.6,267.5) scale(0.87,1)" text-anchor="end" class="tl">200</text>
<line x1="25.6" y1="252.6" x2="27.8" y2="252.6" stroke="#363636" stroke-width="1"/>
<text transform="translate(24.6,254.9) scale(0.87,1)" text-anchor="end" class="tl">300</text>
<line x1="25.6" y1="240" x2="27.8" y2="240" stroke="#363636" stroke-width="1"/>
<text transform="translate(24.6,242.3) scale(0.87,1)" text-anchor="end" class="tl">400</text>
<line x1="25.6" y1="227.4" x2="27.8" y2="227.4" stroke="#363636" stroke-width="1"/>
<text transform="translate(24.6,229.7) scale(0.87,1)" text-anchor="end" class="tl">500</text>
<rect x="28.3" y="213.6" width="68.32" height="10.8" fill="#fff" stroke="#333" stroke-width="1"/>
<text x="62.46" y="221" text-anchor="middle" class="st">A.mag</text>
<line x1="27.3" y1="293.5" x2="97.12" y2="293.5" stroke="#363636" stroke-width="1"/>
<text x="37.7" y="231.1" text-anchor="middle" class="lt">a</text>
<text x="54.21" y="231.1" text-anchor="middle" class="lt">ab</text>
<text x="70.71" y="231.1" text-anchor="middle" class="lt">bc</text>
<text x="87.22" y="231.1" text-anchor="middle" class="lt">c</text>
<rect x="31.1" y="260.1" width="13.2" height="30.3" fill="#FFFFFF" stroke="#D8A631" stroke-width="1"/>
<path d="M36.1 255.3H39.3M37.7 255.3V264.4M36.1 264.4H39.3" stroke="#D8A631" stroke-width="0.9" fill="none"/>
<line x1="37.7" y1="293.5" x2="37.7" y2="295.5" stroke="#363636" stroke-width="1"/>
<text transform="translate(37.7,301.2) scale(0.87,1)" text-anchor="middle" class="tl">&lt;25</text>
<rect x="47.61" y="260.6" width="13.2" height="29.8" fill="#DCDCDC" stroke="#D8A631" stroke-width="1"/>
<path d="M52.61 256.4H55.81M54.21 256.4V265.1M52.61 265.1H55.81" stroke="#D8A631" stroke-width="0.9" fill="none"/>
<line x1="54.21" y1="293.5" x2="54.21" y2="295.5" stroke="#363636" stroke-width="1"/>
<text transform="translate(54.21,301.2) scale(0.87,1)" text-anchor="middle" class="tl">25-50</text>
<rect x="64.11" y="262.4" width="13.2" height="28" fill="#ABABAB" stroke="#D8A631" stroke-width="1"/>
<path d="M69.11 258.6H72.31M70.71 258.6V266.4M69.11 266.4H72.31" stroke="#D8A631" stroke-width="0.9" fill="none"/>
<line x1="70.71" y1="293.5" x2="70.71" y2="295.5" stroke="#363636" stroke-width="1"/>
<text transform="translate(70.71,301.2) scale(0.87,1)" text-anchor="middle" class="tl">50-75</text>
<rect x="80.62" y="263.2" width="13.2" height="27.2" fill="#5F5F5F" stroke="#D8A631" stroke-width="1"/>
<path d="M85.62 259.3H88.82M87.22 259.3V267.6M85.62 267.6H88.82" stroke="#D8A631" stroke-width="0.9" fill="none"/>
<line x1="87.22" y1="293.5" x2="87.22" y2="295.5" stroke="#363636" stroke-width="1"/>
<text transform="translate(87.22,301.2) scale(0.87,1)" text-anchor="middle" class="tl">&gt;75</text>
<rect x="101.52" y="213.6" width="68.32" height="10.8" fill="#fff" stroke="#333" stroke-width="1"/>
<text x="135.68" y="221" text-anchor="middle" class="st">A.pen</text>
<line x1="101.02" y1="293.5" x2="170.34" y2="293.5" stroke="#363636" stroke-width="1"/>
<text x="110.93" y="231.1" text-anchor="middle" class="lt">a</text>
<text x="127.43" y="231.1" text-anchor="middle" class="lt">a</text>
<text x="143.94" y="231.1" text-anchor="middle" class="lt">a</text>
<text x="160.44" y="231.1" text-anchor="middle" class="lt">b</text>
<rect x="104.32" y="256.6" width="13.2" height="33.8" fill="#FFFFFF" stroke="#D8A631" stroke-width="1"/>
<path d="M109.33 249.4H112.53M110.93 249.4V263.4M109.33 263.4H112.53" stroke="#D8A631" stroke-width="0.9" fill="none"/>
<line x1="110.93" y1="293.5" x2="110.93" y2="295.5" stroke="#363636" stroke-width="1"/>
<text transform="translate(110.93,301.2) scale(0.87,1)" text-anchor="middle" class="tl">&lt;25</text>
<rect x="120.83" y="255.6" width="13.2" height="34.8" fill="#DCDCDC" stroke="#D8A631" stroke-width="1"/>
<path d="M125.83 247.6H129.03M127.43 247.6V263.4M125.83 263.4H129.03" stroke="#D8A631" stroke-width="0.9" fill="none"/>
<line x1="127.43" y1="293.5" x2="127.43" y2="295.5" stroke="#363636" stroke-width="1"/>
<text transform="translate(127.43,301.2) scale(0.87,1)" text-anchor="middle" class="tl">25-50</text>
<rect x="137.33" y="253.6" width="13.2" height="36.8" fill="#ABABAB" stroke="#D8A631" stroke-width="1"/>
<path d="M142.34 248.6H145.54M143.94 248.6V258.6M142.34 258.6H145.54" stroke="#D8A631" stroke-width="0.9" fill="none"/>
<line x1="143.94" y1="293.5" x2="143.94" y2="295.5" stroke="#363636" stroke-width="1"/>
<text transform="translate(143.94,301.2) scale(0.87,1)" text-anchor="middle" class="tl">50-75</text>
<rect x="153.84" y="256.6" width="13.2" height="33.8" fill="#5F5F5F" stroke="#D8A631" stroke-width="1"/>
<path d="M158.84 253.1H162.04M160.44 253.1V259.4M158.84 259.4H162.04" stroke="#D8A631" stroke-width="0.9" fill="none"/>
<line x1="160.44" y1="293.5" x2="160.44" y2="295.5" stroke="#363636" stroke-width="1"/>
<text transform="translate(160.44,301.2) scale(0.87,1)" text-anchor="middle" class="tl">&gt;75</text>
<rect x="174.74" y="213.6" width="68.32" height="10.8" fill="#fff" stroke="#333" stroke-width="1"/>
<text x="208.91" y="221" text-anchor="middle" class="st">A.sel</text>
<line x1="174.24" y1="293.5" x2="243.57" y2="293.5" stroke="#363636" stroke-width="1"/>
<text x="184.15" y="231.1" text-anchor="middle" class="lt">a</text>
<text x="200.65" y="231.1" text-anchor="middle" class="lt">a</text>
<text x="217.16" y="231.1" text-anchor="middle" class="lt">a</text>
<text x="233.66" y="231.1" text-anchor="middle" class="lt">a</text>
<rect x="177.55" y="267.6" width="13.2" height="22.8" fill="#FFFFFF" stroke="#D8A631" stroke-width="1"/>
<path d="M182.55 262.2H185.75M184.15 262.2V272.6M182.55 272.6H185.75" stroke="#D8A631" stroke-width="0.9" fill="none"/>
<line x1="184.15" y1="293.5" x2="184.15" y2="295.5" stroke="#363636" stroke-width="1"/>
<text transform="translate(184.15,301.2) scale(0.87,1)" text-anchor="middle" class="tl">&lt;25</text>
<rect x="194.05" y="266.7" width="13.2" height="23.7" fill="#DCDCDC" stroke="#D8A631" stroke-width="1"/>
<path d="M199.05 261.4H202.25M200.65 261.4V272.6M199.05 272.6H202.25" stroke="#D8A631" stroke-width="0.9" fill="none"/>
<line x1="200.65" y1="293.5" x2="200.65" y2="295.5" stroke="#363636" stroke-width="1"/>
<text transform="translate(200.65,301.2) scale(0.87,1)" text-anchor="middle" class="tl">25-50</text>
<rect x="210.56" y="266.4" width="13.2" height="24" fill="#ABABAB" stroke="#D8A631" stroke-width="1"/>
<path d="M215.56 260.1H218.76M217.16 260.1V272.6M215.56 272.6H218.76" stroke="#D8A631" stroke-width="0.9" fill="none"/>
<line x1="217.16" y1="293.5" x2="217.16" y2="295.5" stroke="#363636" stroke-width="1"/>
<text transform="translate(217.16,301.2) scale(0.87,1)" text-anchor="middle" class="tl">50-75</text>
<rect x="227.06" y="272.6" width="13.2" height="17.8" fill="#5F5F5F" stroke="#D8A631" stroke-width="1"/>
<path d="M232.06 270.6H235.26M233.66 270.6V274.2M232.06 274.2H235.26" stroke="#D8A631" stroke-width="0.9" fill="none"/>
<line x1="233.66" y1="293.5" x2="233.66" y2="295.5" stroke="#363636" stroke-width="1"/>
<text transform="translate(233.66,301.2) scale(0.87,1)" text-anchor="middle" class="tl">&gt;75</text>
<rect x="247.97" y="213.6" width="68.32" height="10.8" fill="#fff" stroke="#333" stroke-width="1"/>
<text x="282.13" y="221" text-anchor="middle" class="st">F.con</text>
<line x1="247.47" y1="293.5" x2="316.79" y2="293.5" stroke="#363636" stroke-width="1"/>
<text x="257.37" y="231.1" text-anchor="middle" class="lt">a</text>
<text x="273.88" y="231.1" text-anchor="middle" class="lt">ab</text>
<text x="290.38" y="231.1" text-anchor="middle" class="lt">bc</text>
<text x="306.89" y="231.1" text-anchor="middle" class="lt">c</text>
<rect x="250.77" y="237.6" width="13.2" height="52.8" fill="#FFFFFF" stroke="#D8A631" stroke-width="1"/>
<path d="M255.77 228.2H258.97M257.37 228.2V245.6M255.77 245.6H258.97" stroke="#D8A631" stroke-width="0.9" fill="none"/>
<line x1="257.37" y1="293.5" x2="257.37" y2="295.5" stroke="#363636" stroke-width="1"/>
<text transform="translate(257.37,301.2) scale(0.87,1)" text-anchor="middle" class="tl">&lt;25</text>
<rect x="267.27" y="238.5" width="13.2" height="51.9" fill="#DCDCDC" stroke="#D8A631" stroke-width="1"/>
<path d="M272.28 231.5H275.48M273.88 231.5V245.6M272.28 245.6H275.48" stroke="#D8A631" stroke-width="0.9" fill="none"/>
<line x1="273.88" y1="293.5" x2="273.88" y2="295.5" stroke="#363636" stroke-width="1"/>
<text transform="translate(273.88,301.2) scale(0.87,1)" text-anchor="middle" class="tl">25-50</text>
<rect x="283.78" y="240.6" width="13.2" height="49.8" fill="#ABABAB" stroke="#D8A631" stroke-width="1"/>
<path d="M288.78 232.6H291.98M290.38 232.6V248.6M288.78 248.6H291.98" stroke="#D8A631" stroke-width="0.9" fill="none"/>
<line x1="290.38" y1="293.5" x2="290.38" y2="295.5" stroke="#363636" stroke-width="1"/>
<text transform="translate(290.38,301.2) scale(0.87,1)" text-anchor="middle" class="tl">50-75</text>
<rect x="300.28" y="242.3" width="13.2" height="48.1" fill="#5F5F5F" stroke="#D8A631" stroke-width="1"/>
<path d="M305.29 234.8H308.49M306.89 234.8V249.4M305.29 249.4H308.49" stroke="#D8A631" stroke-width="0.9" fill="none"/>
<line x1="306.89" y1="293.5" x2="306.89" y2="295.5" stroke="#363636" stroke-width="1"/>
<text transform="translate(306.89,301.2) scale(0.87,1)" text-anchor="middle" class="tl">&gt;75</text>
<rect x="321.19" y="213.6" width="68.32" height="10.8" fill="#fff" stroke="#333" stroke-width="1"/>
<text x="355.35" y="221" text-anchor="middle" class="st">C.fon</text>
<line x1="320.69" y1="293.5" x2="390.01" y2="293.5" stroke="#363636" stroke-width="1"/>
<text x="330.59" y="231.1" text-anchor="middle" class="lt">a</text>
<text x="347.1" y="231.1" text-anchor="middle" class="lt">ab</text>
<text x="363.6" y="231.1" text-anchor="middle" class="lt">ab</text>
<text x="380.11" y="231.1" text-anchor="middle" class="lt">b</text>
<rect x="323.99" y="265.2" width="13.2" height="25.2" fill="#FFFFFF" stroke="#549DAA" stroke-width="1"/>
<path d="M328.99 257.8H332.19M330.59 257.8V272.6M328.99 272.6H332.19" stroke="#549DAA" stroke-width="0.9" fill="none"/>
<line x1="330.59" y1="293.5" x2="330.59" y2="295.5" stroke="#363636" stroke-width="1"/>
<text transform="translate(330.59,301.2) scale(0.87,1)" text-anchor="middle" class="tl">&lt;25</text>
<rect x="340.5" y="265.2" width="13.2" height="25.2" fill="#DCDCDC" stroke="#549DAA" stroke-width="1"/>
<path d="M345.5 260.2H348.7M347.1 260.2V270.2M345.5 270.2H348.7" stroke="#549DAA" stroke-width="0.9" fill="none"/>
<line x1="347.1" y1="293.5" x2="347.1" y2="295.5" stroke="#363636" stroke-width="1"/>
<text transform="translate(347.1,301.2) scale(0.87,1)" text-anchor="middle" class="tl">25-50</text>
<rect x="357" y="267.6" width="13.2" height="22.8" fill="#ABABAB" stroke="#549DAA" stroke-width="1"/>
<path d="M362 263.1H365.2M363.6 263.1V271.4M362 271.4H365.2" stroke="#549DAA" stroke-width="0.9" fill="none"/>
<line x1="363.6" y1="293.5" x2="363.6" y2="295.5" stroke="#363636" stroke-width="1"/>
<text transform="translate(363.6,301.2) scale(0.87,1)" text-anchor="middle" class="tl">50-75</text>
<rect x="373.51" y="271.4" width="13.2" height="19" fill="#5F5F5F" stroke="#549DAA" stroke-width="1"/>
<path d="M378.51 268.1H381.71M380.11 268.1V273.9M378.51 273.9H381.71" stroke="#549DAA" stroke-width="0.9" fill="none"/>
<line x1="380.11" y1="293.5" x2="380.11" y2="295.5" stroke="#363636" stroke-width="1"/>
<text transform="translate(380.11,301.2) scale(0.87,1)" text-anchor="middle" class="tl">&gt;75</text>
<rect x="394.41" y="213.6" width="68.32" height="10.8" fill="#fff" stroke="#333" stroke-width="1"/>
<text x="428.57" y="221" text-anchor="middle" class="st">D.glo</text>
<line x1="393.91" y1="293.5" x2="463.23" y2="293.5" stroke="#363636" stroke-width="1"/>
<text x="403.81" y="231.1" text-anchor="middle" class="lt">a</text>
<text x="420.32" y="231.1" text-anchor="middle" class="lt">a</text>
<text x="436.82" y="231.1" text-anchor="middle" class="lt">a</text>
<text x="453.33" y="231.1" text-anchor="middle" class="lt">b</text>
<rect x="397.21" y="255.3" width="13.2" height="35.1" fill="#FFFFFF" stroke="#549DAA" stroke-width="1"/>
<path d="M402.21 252.3H405.41M403.81 252.3V258.9M402.21 258.9H405.41" stroke="#549DAA" stroke-width="0.9" fill="none"/>
<line x1="403.81" y1="293.5" x2="403.81" y2="295.5" stroke="#363636" stroke-width="1"/>
<text transform="translate(403.81,301.2) scale(0.87,1)" text-anchor="middle" class="tl">&lt;25</text>
<rect x="413.72" y="256.1" width="13.2" height="34.3" fill="#DCDCDC" stroke="#549DAA" stroke-width="1"/>
<path d="M418.72 252.3H421.92M420.32 252.3V260.2M418.72 260.2H421.92" stroke="#549DAA" stroke-width="0.9" fill="none"/>
<line x1="420.32" y1="293.5" x2="420.32" y2="295.5" stroke="#363636" stroke-width="1"/>
<text transform="translate(420.32,301.2) scale(0.87,1)" text-anchor="middle" class="tl">25-50</text>
<rect x="430.22" y="256.4" width="13.2" height="34" fill="#ABABAB" stroke="#549DAA" stroke-width="1"/>
<path d="M435.22 253.4H438.42M436.82 253.4V259.3M435.22 259.3H438.42" stroke="#549DAA" stroke-width="0.9" fill="none"/>
<line x1="436.82" y1="293.5" x2="436.82" y2="295.5" stroke="#363636" stroke-width="1"/>
<text transform="translate(436.82,301.2) scale(0.87,1)" text-anchor="middle" class="tl">50-75</text>
<rect x="446.73" y="258.9" width="13.2" height="31.5" fill="#5F5F5F" stroke="#549DAA" stroke-width="1"/>
<path d="M451.73 254.4H454.93M453.33 254.4V263.6M451.73 263.6H454.93" stroke="#549DAA" stroke-width="0.9" fill="none"/>
<line x1="453.33" y1="293.5" x2="453.33" y2="295.5" stroke="#363636" stroke-width="1"/>
<text transform="translate(453.33,301.2) scale(0.87,1)" text-anchor="middle" class="tl">&gt;75</text>
<rect x="467.63" y="213.6" width="68.32" height="10.8" fill="#fff" stroke="#333" stroke-width="1"/>
<text x="501.79" y="221" text-anchor="middle" class="st">P.pra</text>
<line x1="467.13" y1="293.5" x2="536.46" y2="293.5" stroke="#363636" stroke-width="1"/>
<text x="477.04" y="231.1" text-anchor="middle" class="lt">a</text>
<text x="493.54" y="231.1" text-anchor="middle" class="lt">a</text>
<text x="510.05" y="231.1" text-anchor="middle" class="lt">a</text>
<text x="526.55" y="231.1" text-anchor="middle" class="lt">a</text>
<rect x="470.43" y="251.4" width="13.2" height="39" fill="#FFFFFF" stroke="#549DAA" stroke-width="1"/>
<path d="M475.44 244H478.64M477.04 244V259.4M475.44 259.4H478.64" stroke="#549DAA" stroke-width="0.9" fill="none"/>
<line x1="477.04" y1="293.5" x2="477.04" y2="295.5" stroke="#363636" stroke-width="1"/>
<text transform="translate(477.04,301.2) scale(0.87,1)" text-anchor="middle" class="tl">&lt;25</text>
<rect x="486.94" y="250.9" width="13.2" height="39.5" fill="#DCDCDC" stroke="#549DAA" stroke-width="1"/>
<path d="M491.94 246.4H495.14M493.54 246.4V255.3M491.94 255.3H495.14" stroke="#549DAA" stroke-width="0.9" fill="none"/>
<line x1="493.54" y1="293.5" x2="493.54" y2="295.5" stroke="#363636" stroke-width="1"/>
<text transform="translate(493.54,301.2) scale(0.87,1)" text-anchor="middle" class="tl">25-50</text>
<rect x="503.44" y="250.3" width="13.2" height="40.1" fill="#ABABAB" stroke="#549DAA" stroke-width="1"/>
<path d="M508.45 243.5H511.65M510.05 243.5V257.6M508.45 257.6H511.65" stroke="#549DAA" stroke-width="0.9" fill="none"/>
<line x1="510.05" y1="293.5" x2="510.05" y2="295.5" stroke="#363636" stroke-width="1"/>
<text transform="translate(510.05,301.2) scale(0.87,1)" text-anchor="middle" class="tl">50-75</text>
<rect x="519.95" y="252.6" width="13.2" height="37.8" fill="#5F5F5F" stroke="#549DAA" stroke-width="1"/>
<path d="M524.95 246.4H528.15M526.55 246.4V258.4M524.95 258.4H528.15" stroke="#549DAA" stroke-width="0.9" fill="none"/>
<line x1="526.55" y1="293.5" x2="526.55" y2="295.5" stroke="#363636" stroke-width="1"/>
<text transform="translate(526.55,301.2) scale(0.87,1)" text-anchor="middle" class="tl">&gt;75</text>
<rect x="540.86" y="213.6" width="68.32" height="10.8" fill="#fff" stroke="#333" stroke-width="1"/>
<text x="575.02" y="221" text-anchor="middle" class="st">T.ery</text>
<line x1="540.36" y1="293.5" x2="609.68" y2="293.5" stroke="#363636" stroke-width="1"/>
<text x="550.26" y="231.1" text-anchor="middle" class="lt">a</text>
<text x="566.76" y="231.1" text-anchor="middle" class="lt">ab</text>
<text x="583.27" y="231.1" text-anchor="middle" class="lt">ab</text>
<text x="599.77" y="231.1" text-anchor="middle" class="lt">b</text>
<rect x="543.66" y="268.6" width="13.2" height="21.8" fill="#FFFFFF" stroke="#549DAA" stroke-width="1"/>
<path d="M548.66 265.6H551.86M550.26 265.6V271.4M548.66 271.4H551.86" stroke="#549DAA" stroke-width="0.9" fill="none"/>
<line x1="550.26" y1="293.5" x2="550.26" y2="295.5" stroke="#363636" stroke-width="1"/>
<text transform="translate(550.26,301.2) scale(0.87,1)" text-anchor="middle" class="tl">&lt;25</text>
<rect x="560.16" y="269.2" width="13.2" height="21.2" fill="#DCDCDC" stroke="#549DAA" stroke-width="1"/>
<path d="M565.16 265.6H568.36M566.76 265.6V272.7M565.16 272.7H568.36" stroke="#549DAA" stroke-width="0.9" fill="none"/>
<line x1="566.76" y1="293.5" x2="566.76" y2="295.5" stroke="#363636" stroke-width="1"/>
<text transform="translate(566.76,301.2) scale(0.87,1)" text-anchor="middle" class="tl">25-50</text>
<rect x="576.67" y="270.2" width="13.2" height="20.2" fill="#ABABAB" stroke="#549DAA" stroke-width="1"/>
<path d="M581.67 266.4H584.87M583.27 266.4V273.9M581.67 273.9H584.87" stroke="#549DAA" stroke-width="0.9" fill="none"/>
<line x1="583.27" y1="293.5" x2="583.27" y2="295.5" stroke="#363636" stroke-width="1"/>
<text transform="translate(583.27,301.2) scale(0.87,1)" text-anchor="middle" class="tl">50-75</text>
<rect x="593.17" y="270.9" width="13.2" height="19.5" fill="#5F5F5F" stroke="#549DAA" stroke-width="1"/>
<path d="M598.17 266.4H601.37M599.77 266.4V274.7M598.17 274.7H601.37" stroke="#549DAA" stroke-width="0.9" fill="none"/>
<line x1="599.77" y1="293.5" x2="599.77" y2="295.5" stroke="#363636" stroke-width="1"/>
<text transform="translate(599.77,301.2) scale(0.87,1)" text-anchor="middle" class="tl">&gt;75</text>
<rect x="614.08" y="213.6" width="68.32" height="10.8" fill="#fff" stroke="#333" stroke-width="1"/>
<text x="648.24" y="221" text-anchor="middle" class="st">T.off</text>
<line x1="613.58" y1="293.5" x2="682.9" y2="293.5" stroke="#363636" stroke-width="1"/>
<text x="623.48" y="231.1" text-anchor="middle" class="lt">a</text>
<text x="639.99" y="231.1" text-anchor="middle" class="lt">b</text>
<text x="656.49" y="231.1" text-anchor="middle" class="lt">b</text>
<text x="673" y="231.1" text-anchor="middle" class="lt">c</text>
<rect x="616.88" y="270.6" width="13.2" height="19.8" fill="#FFFFFF" stroke="#549DAA" stroke-width="1"/>
<path d="M621.88 266.4H625.08M623.48 266.4V274.7M621.88 274.7H625.08" stroke="#549DAA" stroke-width="0.9" fill="none"/>
<line x1="623.48" y1="293.5" x2="623.48" y2="295.5" stroke="#363636" stroke-width="1"/>
<text transform="translate(623.48,301.2) scale(0.87,1)" text-anchor="middle" class="tl">&lt;25</text>
<rect x="633.38" y="272.6" width="13.2" height="17.8" fill="#DCDCDC" stroke="#549DAA" stroke-width="1"/>
<path d="M638.39 268.4H641.59M639.99 268.4V276.7M638.39 276.7H641.59" stroke="#549DAA" stroke-width="0.9" fill="none"/>
<line x1="639.99" y1="293.5" x2="639.99" y2="295.5" stroke="#363636" stroke-width="1"/>
<text transform="translate(639.99,301.2) scale(0.87,1)" text-anchor="middle" class="tl">25-50</text>
<rect x="649.89" y="272.6" width="13.2" height="17.8" fill="#ABABAB" stroke="#549DAA" stroke-width="1"/>
<path d="M654.89 268.9H658.09M656.49 268.9V276.4M654.89 276.4H658.09" stroke="#549DAA" stroke-width="0.9" fill="none"/>
<line x1="656.49" y1="293.5" x2="656.49" y2="295.5" stroke="#363636" stroke-width="1"/>
<text transform="translate(656.49,301.2) scale(0.87,1)" text-anchor="middle" class="tl">50-75</text>
<rect x="666.39" y="274.2" width="13.2" height="16.2" fill="#5F5F5F" stroke="#549DAA" stroke-width="1"/>
<path d="M671.4 270.9H674.6M673 270.9V277.5M671.4 277.5H674.6" stroke="#549DAA" stroke-width="0.9" fill="none"/>
<line x1="673" y1="293.5" x2="673" y2="295.5" stroke="#363636" stroke-width="1"/>
<text transform="translate(673,301.2) scale(0.87,1)" text-anchor="middle" class="tl">&gt;75</text>
<line x1="22.35" y1="330.2" x2="22.35" y2="399.3" stroke="#363636" stroke-width="1"/>
<line x1="20.15" y1="395.8" x2="22.35" y2="395.8" stroke="#363636" stroke-width="1"/>
<text transform="translate(19.15,398.1) scale(0.87,1)" text-anchor="end" class="tl">0.0</text>
<line x1="20.15" y1="371.7" x2="22.35" y2="371.7" stroke="#363636" stroke-width="1"/>
<text transform="translate(19.15,374) scale(0.87,1)" text-anchor="end" class="tl">0.5</text>
<line x1="20.15" y1="347.6" x2="22.35" y2="347.6" stroke="#363636" stroke-width="1"/>
<text transform="translate(19.15,349.9) scale(0.87,1)" text-anchor="end" class="tl">1.0</text>
<rect x="22.85" y="319.4" width="65.52" height="10.8" fill="#fff" stroke="#333" stroke-width="1"/>
<text x="55.61" y="326.8" text-anchor="middle" class="st">A.sel</text>
<line x1="21.85" y1="399.3" x2="88.87" y2="399.3" stroke="#363636" stroke-width="1"/>
<text x="31.85" y="336.8" text-anchor="middle" class="lt">a</text>
<text x="47.69" y="336.8" text-anchor="middle" class="lt">a</text>
<text x="63.53" y="336.8" text-anchor="middle" class="lt">a</text>
<text x="79.36" y="336.8" text-anchor="middle" class="lt">b</text>
<rect x="25.52" y="371.2" width="12.67" height="24.6" fill="#FFFFFF" stroke="#D8A631" stroke-width="1"/>
<path d="M30.25 358.6H33.45M31.85 358.6V384M30.25 384H33.45" stroke="#D8A631" stroke-width="0.9" fill="none"/>
<line x1="31.85" y1="399.3" x2="31.85" y2="401.3" stroke="#363636" stroke-width="1"/>
<text transform="translate(31.85,406.9) scale(0.87,1)" text-anchor="middle" class="tl">&lt;25</text>
<rect x="41.35" y="371.2" width="12.67" height="24.6" fill="#DCDCDC" stroke="#D8A631" stroke-width="1"/>
<path d="M46.09 359.4H49.29M47.69 359.4V383.2M46.09 383.2H49.29" stroke="#D8A631" stroke-width="0.9" fill="none"/>
<line x1="47.69" y1="399.3" x2="47.69" y2="401.3" stroke="#363636" stroke-width="1"/>
<text transform="translate(47.69,406.9) scale(0.87,1)" text-anchor="middle" class="tl">25-50</text>
<rect x="57.19" y="371.6" width="12.67" height="24.2" fill="#ABABAB" stroke="#D8A631" stroke-width="1"/>
<path d="M61.93 361.3H65.13M63.53 361.3V382.4M61.93 382.4H65.13" stroke="#D8A631" stroke-width="0.9" fill="none"/>
<line x1="63.53" y1="399.3" x2="63.53" y2="401.3" stroke="#363636" stroke-width="1"/>
<text transform="translate(63.53,406.9) scale(0.87,1)" text-anchor="middle" class="tl">50-75</text>
<rect x="73.03" y="357.4" width="12.67" height="38.4" fill="#5F5F5F" stroke="#D8A631" stroke-width="1"/>
<path d="M77.76 345.5H80.96M79.36 345.5V369.4M77.76 369.4H80.96" stroke="#D8A631" stroke-width="0.9" fill="none"/>
<line x1="79.36" y1="399.3" x2="79.36" y2="401.3" stroke="#363636" stroke-width="1"/>
<text transform="translate(79.36,406.9) scale(0.87,1)" text-anchor="middle" class="tl">&gt;75</text>
<rect x="93.27" y="319.4" width="65.52" height="10.8" fill="#fff" stroke="#333" stroke-width="1"/>
<text x="126.03" y="326.8" text-anchor="middle" class="st">F.con</text>
<line x1="92.77" y1="399.3" x2="159.28" y2="399.3" stroke="#363636" stroke-width="1"/>
<text x="102.27" y="336.8" text-anchor="middle" class="lt">a</text>
<text x="118.11" y="336.8" text-anchor="middle" class="lt">b</text>
<text x="133.94" y="336.8" text-anchor="middle" class="lt">bc</text>
<text x="149.78" y="336.8" text-anchor="middle" class="lt">c</text>
<rect x="95.93" y="373.6" width="12.67" height="22.2" fill="#FFFFFF" stroke="#D8A631" stroke-width="1"/>
<path d="M100.67 357.4H103.87M102.27 357.4V388.5M100.67 388.5H103.87" stroke="#D8A631" stroke-width="0.9" fill="none"/>
<line x1="102.27" y1="399.3" x2="102.27" y2="401.3" stroke="#363636" stroke-width="1"/>
<text transform="translate(102.27,406.9) scale(0.87,1)" text-anchor="middle" class="tl">&lt;25</text>
<rect x="111.77" y="371.2" width="12.67" height="24.6" fill="#DCDCDC" stroke="#D8A631" stroke-width="1"/>
<path d="M116.51 358.3H119.71M118.11 358.3V384.4M116.51 384.4H119.71" stroke="#D8A631" stroke-width="0.9" fill="none"/>
<line x1="118.11" y1="399.3" x2="118.11" y2="401.3" stroke="#363636" stroke-width="1"/>
<text transform="translate(118.11,406.9) scale(0.87,1)" text-anchor="middle" class="tl">25-50</text>
<rect x="127.61" y="364.4" width="12.67" height="31.4" fill="#ABABAB" stroke="#D8A631" stroke-width="1"/>
<path d="M132.34 344.6H135.54M133.94 344.6V383.5M132.34 383.5H135.54" stroke="#D8A631" stroke-width="0.9" fill="none"/>
<line x1="133.94" y1="399.3" x2="133.94" y2="401.3" stroke="#363636" stroke-width="1"/>
<text transform="translate(133.94,406.9) scale(0.87,1)" text-anchor="middle" class="tl">50-75</text>
<rect x="143.45" y="360.8" width="12.67" height="35" fill="#5F5F5F" stroke="#D8A631" stroke-width="1"/>
<path d="M148.18 340.5H151.38M149.78 340.5V380.2M148.18 380.2H151.38" stroke="#D8A631" stroke-width="0.9" fill="none"/>
<line x1="149.78" y1="399.3" x2="149.78" y2="401.3" stroke="#363636" stroke-width="1"/>
<text transform="translate(149.78,406.9) scale(0.87,1)" text-anchor="middle" class="tl">&gt;75</text>
<rect x="163.68" y="319.4" width="65.52" height="10.8" fill="#fff" stroke="#333" stroke-width="1"/>
<text x="196.44" y="326.8" text-anchor="middle" class="st">C.fon</text>
<line x1="163.18" y1="399.3" x2="229.7" y2="399.3" stroke="#363636" stroke-width="1"/>
<text x="172.69" y="336.8" text-anchor="middle" class="lt">a</text>
<text x="188.52" y="336.8" text-anchor="middle" class="lt">ab</text>
<text x="204.36" y="336.8" text-anchor="middle" class="lt">c</text>
<text x="220.2" y="336.8" text-anchor="middle" class="lt">bc</text>
<rect x="166.35" y="373.2" width="12.67" height="22.6" fill="#FFFFFF" stroke="#549DAA" stroke-width="1"/>
<path d="M171.09 361.3H174.29M172.69 361.3V384.5M171.09 384.5H174.29" stroke="#549DAA" stroke-width="0.9" fill="none"/>
<line x1="172.69" y1="399.3" x2="172.69" y2="401.3" stroke="#363636" stroke-width="1"/>
<text transform="translate(172.69,406.9) scale(0.87,1)" text-anchor="middle" class="tl">&lt;25</text>
<rect x="182.19" y="374.1" width="12.67" height="21.7" fill="#DCDCDC" stroke="#549DAA" stroke-width="1"/>
<path d="M186.92 363.6H190.12M188.52 363.6V384.4M186.92 384.4H190.12" stroke="#549DAA" stroke-width="0.9" fill="none"/>
<line x1="188.52" y1="399.3" x2="188.52" y2="401.3" stroke="#363636" stroke-width="1"/>
<text transform="translate(188.52,406.9) scale(0.87,1)" text-anchor="middle" class="tl">25-50</text>
<rect x="198.03" y="353.8" width="12.67" height="42" fill="#ABABAB" stroke="#549DAA" stroke-width="1"/>
<path d="M202.76 337.2H205.96M204.36 337.2V369.9M202.76 369.9H205.96" stroke="#549DAA" stroke-width="0.9" fill="none"/>
<line x1="204.36" y1="399.3" x2="204.36" y2="401.3" stroke="#363636" stroke-width="1"/>
<text transform="translate(204.36,406.9) scale(0.87,1)" text-anchor="middle" class="tl">50-75</text>
<rect x="213.86" y="359.4" width="12.67" height="36.4" fill="#5F5F5F" stroke="#549DAA" stroke-width="1"/>
<path d="M218.6 346.3H221.8M220.2 346.3V372.4M218.6 372.4H221.8" stroke="#549DAA" stroke-width="0.9" fill="none"/>
<line x1="220.2" y1="399.3" x2="220.2" y2="401.3" stroke="#363636" stroke-width="1"/>
<text transform="translate(220.2,406.9) scale(0.87,1)" text-anchor="middle" class="tl">&gt;75</text>
<line x1="247.1" y1="330.2" x2="247.1" y2="399.3" stroke="#363636" stroke-width="1"/>
<line x1="244.9" y1="395.5" x2="247.1" y2="395.5" stroke="#363636" stroke-width="1"/>
<text transform="translate(243.9,397.8) scale(0.87,1)" text-anchor="end" class="tl">0</text>
<line x1="244.9" y1="383.4" x2="247.1" y2="383.4" stroke="#363636" stroke-width="1"/>
<text transform="translate(243.9,385.7) scale(0.87,1)" text-anchor="end" class="tl">5</text>
<line x1="244.9" y1="371.3" x2="247.1" y2="371.3" stroke="#363636" stroke-width="1"/>
<text transform="translate(243.9,373.6) scale(0.87,1)" text-anchor="end" class="tl">10</text>
<line x1="244.9" y1="359.2" x2="247.1" y2="359.2" stroke="#363636" stroke-width="1"/>
<text transform="translate(243.9,361.5) scale(0.87,1)" text-anchor="end" class="tl">15</text>
<line x1="244.9" y1="347.1" x2="247.1" y2="347.1" stroke="#363636" stroke-width="1"/>
<text transform="translate(243.9,349.4) scale(0.87,1)" text-anchor="end" class="tl">20</text>
<line x1="244.9" y1="335" x2="247.1" y2="335" stroke="#363636" stroke-width="1"/>
<text transform="translate(243.9,337.3) scale(0.87,1)" text-anchor="end" class="tl">25</text>
<rect x="247.6" y="319.4" width="65.26" height="10.8" fill="#fff" stroke="#333" stroke-width="1"/>
<text x="280.23" y="326.8" text-anchor="middle" class="st">A.mag</text>
<line x1="246.6" y1="399.3" x2="313.36" y2="399.3" stroke="#363636" stroke-width="1"/>
<text x="256.57" y="337.1" text-anchor="middle" class="lt">a</text>
<text x="272.34" y="337.1" text-anchor="middle" class="lt">a</text>
<text x="288.12" y="337.1" text-anchor="middle" class="lt">b</text>
<text x="303.89" y="337.1" text-anchor="middle" class="lt">ab</text>
<rect x="250.26" y="375.7" width="12.62" height="19.8" fill="#FFFFFF" stroke="#D8A631" stroke-width="1"/>
<path d="M254.97 357.1H258.17M256.57 357.1V394.4M254.97 394.4H258.17" stroke="#D8A631" stroke-width="0.9" fill="none"/>
<line x1="256.57" y1="399.3" x2="256.57" y2="401.3" stroke="#363636" stroke-width="1"/>
<text transform="translate(256.57,406.9) scale(0.87,1)" text-anchor="middle" class="tl">&lt;25</text>
<rect x="266.03" y="377.4" width="12.62" height="18.1" fill="#DCDCDC" stroke="#D8A631" stroke-width="1"/>
<path d="M270.74 360.8H273.94M272.34 360.8V394.4M270.74 394.4H273.94" stroke="#D8A631" stroke-width="0.9" fill="none"/>
<line x1="272.34" y1="399.3" x2="272.34" y2="401.3" stroke="#363636" stroke-width="1"/>
<text transform="translate(272.34,406.9) scale(0.87,1)" text-anchor="middle" class="tl">25-50</text>
<rect x="281.81" y="372.4" width="12.62" height="23.1" fill="#ABABAB" stroke="#D8A631" stroke-width="1"/>
<path d="M286.52 351.3H289.72M288.12 351.3V394.4M286.52 394.4H289.72" stroke="#D8A631" stroke-width="0.9" fill="none"/>
<line x1="288.12" y1="399.3" x2="288.12" y2="401.3" stroke="#363636" stroke-width="1"/>
<text transform="translate(288.12,406.9) scale(0.87,1)" text-anchor="middle" class="tl">50-75</text>
<rect x="297.58" y="374.1" width="12.62" height="21.4" fill="#5F5F5F" stroke="#D8A631" stroke-width="1"/>
<path d="M302.29 352.1H305.49M303.89 352.1V394.4M302.29 394.4H305.49" stroke="#D8A631" stroke-width="0.9" fill="none"/>
<line x1="303.89" y1="399.3" x2="303.89" y2="401.3" stroke="#363636" stroke-width="1"/>
<text transform="translate(303.89,406.9) scale(0.87,1)" text-anchor="middle" class="tl">&gt;75</text>
<rect x="317.76" y="319.4" width="65.26" height="10.8" fill="#fff" stroke="#333" stroke-width="1"/>
<text x="350.39" y="326.8" text-anchor="middle" class="st">A.pen</text>
<line x1="317.26" y1="399.3" x2="383.52" y2="399.3" stroke="#363636" stroke-width="1"/>
<text x="326.73" y="337.1" text-anchor="middle" class="lt">a</text>
<text x="342.5" y="337.1" text-anchor="middle" class="lt">b</text>
<text x="358.28" y="337.1" text-anchor="middle" class="lt">b</text>
<text x="374.05" y="337.1" text-anchor="middle" class="lt">c</text>
<rect x="320.42" y="380.2" width="12.62" height="15.3" fill="#FFFFFF" stroke="#D8A631" stroke-width="1"/>
<path d="M325.13 369.4H328.33M326.73 369.4V391M325.13 391H328.33" stroke="#D8A631" stroke-width="0.9" fill="none"/>
<line x1="326.73" y1="399.3" x2="326.73" y2="401.3" stroke="#363636" stroke-width="1"/>
<text transform="translate(326.73,406.9) scale(0.87,1)" text-anchor="middle" class="tl">&lt;25</text>
<rect x="336.19" y="378.6" width="12.62" height="16.9" fill="#DCDCDC" stroke="#D8A631" stroke-width="1"/>
<path d="M340.9 369.1H344.1M342.5 369.1V388.2M340.9 388.2H344.1" stroke="#D8A631" stroke-width="0.9" fill="none"/>
<line x1="342.5" y1="399.3" x2="342.5" y2="401.3" stroke="#363636" stroke-width="1"/>
<text transform="translate(342.5,406.9) scale(0.87,1)" text-anchor="middle" class="tl">25-50</text>
<rect x="351.97" y="379.4" width="12.62" height="16.1" fill="#ABABAB" stroke="#D8A631" stroke-width="1"/>
<path d="M356.68 368.6H359.88M358.28 368.6V389.9M356.68 389.9H359.88" stroke="#D8A631" stroke-width="0.9" fill="none"/>
<line x1="358.28" y1="399.3" x2="358.28" y2="401.3" stroke="#363636" stroke-width="1"/>
<text transform="translate(358.28,406.9) scale(0.87,1)" text-anchor="middle" class="tl">50-75</text>
<rect x="367.74" y="366.6" width="12.62" height="28.9" fill="#5F5F5F" stroke="#D8A631" stroke-width="1"/>
<path d="M372.45 357.8H375.65M374.05 357.8V375.2M372.45 375.2H375.65" stroke="#D8A631" stroke-width="0.9" fill="none"/>
<line x1="374.05" y1="399.3" x2="374.05" y2="401.3" stroke="#363636" stroke-width="1"/>
<text transform="translate(374.05,406.9) scale(0.87,1)" text-anchor="middle" class="tl">&gt;75</text>
<rect x="387.92" y="319.4" width="65.26" height="10.8" fill="#fff" stroke="#333" stroke-width="1"/>
<text x="420.55" y="326.8" text-anchor="middle" class="st">D.glo</text>
<line x1="387.42" y1="399.3" x2="453.68" y2="399.3" stroke="#363636" stroke-width="1"/>
<text x="396.89" y="337.1" text-anchor="middle" class="lt">a</text>
<text x="412.66" y="337.1" text-anchor="middle" class="lt">b</text>
<text x="428.44" y="337.1" text-anchor="middle" class="lt">b</text>
<text x="444.21" y="337.1" text-anchor="middle" class="lt">c</text>
<rect x="390.58" y="377.7" width="12.62" height="17.8" fill="#FFFFFF" stroke="#549DAA" stroke-width="1"/>
<path d="M395.29 370.2H398.49M396.89 370.2V385.4M395.29 385.4H398.49" stroke="#549DAA" stroke-width="0.9" fill="none"/>
<line x1="396.89" y1="399.3" x2="396.89" y2="401.3" stroke="#363636" stroke-width="1"/>
<text transform="translate(396.89,406.9) scale(0.87,1)" text-anchor="middle" class="tl">&lt;25</text>
<rect x="406.35" y="368.6" width="12.62" height="26.9" fill="#DCDCDC" stroke="#549DAA" stroke-width="1"/>
<path d="M411.06 357.4H414.26M412.66 357.4V379.4M411.06 379.4H414.26" stroke="#549DAA" stroke-width="0.9" fill="none"/>
<line x1="412.66" y1="399.3" x2="412.66" y2="401.3" stroke="#363636" stroke-width="1"/>
<text transform="translate(412.66,406.9) scale(0.87,1)" text-anchor="middle" class="tl">25-50</text>
<rect x="422.13" y="367.4" width="12.62" height="28.1" fill="#ABABAB" stroke="#549DAA" stroke-width="1"/>
<path d="M426.84 355.4H430.04M428.44 355.4V378.6M426.84 378.6H430.04" stroke="#549DAA" stroke-width="0.9" fill="none"/>
<line x1="428.44" y1="399.3" x2="428.44" y2="401.3" stroke="#363636" stroke-width="1"/>
<text transform="translate(428.44,406.9) scale(0.87,1)" text-anchor="middle" class="tl">50-75</text>
<rect x="437.9" y="350.5" width="12.62" height="45" fill="#5F5F5F" stroke="#549DAA" stroke-width="1"/>
<path d="M442.61 336.7H445.81M444.21 336.7V366.9M442.61 366.9H445.81" stroke="#549DAA" stroke-width="0.9" fill="none"/>
<line x1="444.21" y1="399.3" x2="444.21" y2="401.3" stroke="#363636" stroke-width="1"/>
<text transform="translate(444.21,406.9) scale(0.87,1)" text-anchor="middle" class="tl">&gt;75</text>
<rect x="458.08" y="319.4" width="65.26" height="10.8" fill="#fff" stroke="#333" stroke-width="1"/>
<text x="490.71" y="326.8" text-anchor="middle" class="st">P.pra</text>
<line x1="457.58" y1="399.3" x2="523.84" y2="399.3" stroke="#363636" stroke-width="1"/>
<text x="467.05" y="337.1" text-anchor="middle" class="lt">a</text>
<text x="482.82" y="337.1" text-anchor="middle" class="lt">b</text>
<text x="498.6" y="337.1" text-anchor="middle" class="lt">ab</text>
<text x="514.37" y="337.1" text-anchor="middle" class="lt">b</text>
<rect x="460.74" y="386.5" width="12.62" height="9" fill="#FFFFFF" stroke="#549DAA" stroke-width="1"/>
<path d="M465.45 380.7H468.65M467.05 380.7V391.5M465.45 391.5H468.65" stroke="#549DAA" stroke-width="0.9" fill="none"/>
<line x1="467.05" y1="399.3" x2="467.05" y2="401.3" stroke="#363636" stroke-width="1"/>
<text transform="translate(467.05,406.9) scale(0.87,1)" text-anchor="middle" class="tl">&lt;25</text>
<rect x="476.51" y="382.4" width="12.62" height="13.1" fill="#DCDCDC" stroke="#549DAA" stroke-width="1"/>
<path d="M481.22 375.2H484.42M482.82 375.2V389M481.22 389H484.42" stroke="#549DAA" stroke-width="0.9" fill="none"/>
<line x1="482.82" y1="399.3" x2="482.82" y2="401.3" stroke="#363636" stroke-width="1"/>
<text transform="translate(482.82,406.9) scale(0.87,1)" text-anchor="middle" class="tl">25-50</text>
<rect x="492.29" y="384.4" width="12.62" height="11.1" fill="#ABABAB" stroke="#549DAA" stroke-width="1"/>
<path d="M497 379.2H500.2M498.6 379.2V389.9M497 389.9H500.2" stroke="#549DAA" stroke-width="0.9" fill="none"/>
<line x1="498.6" y1="399.3" x2="498.6" y2="401.3" stroke="#363636" stroke-width="1"/>
<text transform="translate(498.6,406.9) scale(0.87,1)" text-anchor="middle" class="tl">50-75</text>
<rect x="508.06" y="383.5" width="12.62" height="12" fill="#5F5F5F" stroke="#549DAA" stroke-width="1"/>
<path d="M512.77 377.7H515.97M514.37 377.7V389.4M512.77 389.4H515.97" stroke="#549DAA" stroke-width="0.9" fill="none"/>
<line x1="514.37" y1="399.3" x2="514.37" y2="401.3" stroke="#363636" stroke-width="1"/>
<text transform="translate(514.37,406.9) scale(0.87,1)" text-anchor="middle" class="tl">&gt;75</text>
<rect x="528.24" y="319.4" width="65.26" height="10.8" fill="#fff" stroke="#333" stroke-width="1"/>
<text x="560.87" y="326.8" text-anchor="middle" class="st">T.ery</text>
<line x1="527.74" y1="399.3" x2="594" y2="399.3" stroke="#363636" stroke-width="1"/>
<text x="537.21" y="337.1" text-anchor="middle" class="lt">a</text>
<text x="552.98" y="337.1" text-anchor="middle" class="lt">b</text>
<text x="568.76" y="337.1" text-anchor="middle" class="lt">b</text>
<text x="584.53" y="337.1" text-anchor="middle" class="lt">c</text>
<rect x="530.9" y="390.4" width="12.62" height="5.1" fill="#FFFFFF" stroke="#549DAA" stroke-width="1"/>
<path d="M535.61 387.4H538.81M537.21 387.4V393.5M535.61 393.5H538.81" stroke="#549DAA" stroke-width="0.9" fill="none"/>
<line x1="537.21" y1="399.3" x2="537.21" y2="401.3" stroke="#363636" stroke-width="1"/>
<text transform="translate(537.21,406.9) scale(0.87,1)" text-anchor="middle" class="tl">&lt;25</text>
<rect x="546.67" y="386.5" width="12.62" height="9" fill="#DCDCDC" stroke="#549DAA" stroke-width="1"/>
<path d="M551.38 378.2H554.58M552.98 378.2V394.4M551.38 394.4H554.58" stroke="#549DAA" stroke-width="0.9" fill="none"/>
<line x1="552.98" y1="399.3" x2="552.98" y2="401.3" stroke="#363636" stroke-width="1"/>
<text transform="translate(552.98,406.9) scale(0.87,1)" text-anchor="middle" class="tl">25-50</text>
<rect x="562.45" y="384.9" width="12.62" height="10.6" fill="#ABABAB" stroke="#549DAA" stroke-width="1"/>
<path d="M567.16 373.7H570.36M568.76 373.7V395.7M567.16 395.7H570.36" stroke="#549DAA" stroke-width="0.9" fill="none"/>
<line x1="568.76" y1="399.3" x2="568.76" y2="401.3" stroke="#363636" stroke-width="1"/>
<text transform="translate(568.76,406.9) scale(0.87,1)" text-anchor="middle" class="tl">50-75</text>
<rect x="578.22" y="374.6" width="12.62" height="20.9" fill="#5F5F5F" stroke="#549DAA" stroke-width="1"/>
<path d="M582.93 355.4H586.13M584.53 355.4V393.7M582.93 393.7H586.13" stroke="#549DAA" stroke-width="0.9" fill="none"/>
<line x1="584.53" y1="399.3" x2="584.53" y2="401.3" stroke="#363636" stroke-width="1"/>
<text transform="translate(584.53,406.9) scale(0.87,1)" text-anchor="middle" class="tl">&gt;75</text>
<line x1="615" y1="330.2" x2="615" y2="399.3" stroke="#363636" stroke-width="1"/>
<line x1="612.8" y1="394.4" x2="615" y2="394.4" stroke="#363636" stroke-width="1"/>
<text transform="translate(611.8,396.7) scale(0.87,1)" text-anchor="end" class="tl">0</text>
<line x1="612.8" y1="374.24" x2="615" y2="374.24" stroke="#363636" stroke-width="1"/>
<text transform="translate(611.8,376.54) scale(0.87,1)" text-anchor="end" class="tl">40</text>
<line x1="612.8" y1="354.08" x2="615" y2="354.08" stroke="#363636" stroke-width="1"/>
<text transform="translate(611.8,356.38) scale(0.87,1)" text-anchor="end" class="tl">80</text>
<line x1="612.8" y1="333.92" x2="615" y2="333.92" stroke="#363636" stroke-width="1"/>
<text transform="translate(611.8,336.22) scale(0.87,1)" text-anchor="end" class="tl">120</text>
<rect x="615.5" y="319.4" width="66.8" height="10.8" fill="#fff" stroke="#333" stroke-width="1"/>
<text x="648.9" y="326.8" text-anchor="middle" class="st">T.off</text>
<line x1="614.5" y1="399.3" x2="682.8" y2="399.3" stroke="#363636" stroke-width="1"/>
<text x="624.69" y="339.6" text-anchor="middle" class="lt">a</text>
<text x="640.83" y="339.6" text-anchor="middle" class="lt">b</text>
<text x="656.97" y="339.6" text-anchor="middle" class="lt">b</text>
<text x="673.11" y="339.6" text-anchor="middle" class="lt">c</text>
<rect x="618.23" y="375.2" width="12.91" height="19.2" fill="#FFFFFF" stroke="#549DAA" stroke-width="1"/>
<path d="M623.09 354.4H626.29M624.69 354.4V396.2M623.09 396.2H626.29" stroke="#549DAA" stroke-width="0.9" fill="none"/>
<line x1="624.69" y1="399.3" x2="624.69" y2="401.3" stroke="#363636" stroke-width="1"/>
<text transform="translate(624.69,406.9) scale(0.87,1)" text-anchor="middle" class="tl">&lt;25</text>
<rect x="634.37" y="366.6" width="12.91" height="27.8" fill="#DCDCDC" stroke="#549DAA" stroke-width="1"/>
<path d="M639.23 343.3H642.43M640.83 343.3V390.2M639.23 390.2H642.43" stroke="#549DAA" stroke-width="0.9" fill="none"/>
<line x1="640.83" y1="399.3" x2="640.83" y2="401.3" stroke="#363636" stroke-width="1"/>
<text transform="translate(640.83,406.9) scale(0.87,1)" text-anchor="middle" class="tl">25-50</text>
<rect x="650.51" y="367.4" width="12.91" height="27" fill="#ABABAB" stroke="#549DAA" stroke-width="1"/>
<path d="M655.37 347.1H658.57M656.97 347.1V387.7M655.37 387.7H658.57" stroke="#549DAA" stroke-width="0.9" fill="none"/>
<line x1="656.97" y1="399.3" x2="656.97" y2="401.3" stroke="#363636" stroke-width="1"/>
<text transform="translate(656.97,406.9) scale(0.87,1)" text-anchor="middle" class="tl">50-75</text>
<rect x="666.66" y="358.3" width="12.91" height="36.1" fill="#5F5F5F" stroke="#549DAA" stroke-width="1"/>
<path d="M671.51 333.3H674.71M673.11 333.3V382.4M671.51 382.4H674.71" stroke="#549DAA" stroke-width="0.9" fill="none"/>
<line x1="673.11" y1="399.3" x2="673.11" y2="401.3" stroke="#363636" stroke-width="1"/>
<text transform="translate(673.11,406.9) scale(0.87,1)" text-anchor="middle" class="tl">&gt;75</text>
<text transform="translate(6.9,47.6) rotate(-90)" text-anchor="middle" class="yt" font-size="7.55">Mean Height (cm)</text>
<text transform="translate(9.3,153.4) rotate(-90)" text-anchor="middle" class="yt" font-size="7.25">Mean SLA <tspan class="par">(</tspan>mm<tspan class="sup" dy="-2.8">2</tspan><tspan dy="2.8">.mg</tspan><tspan class="sup" dy="-2.8">-1</tspan><tspan dy="2.8"><tspan class="par">)</tspan></tspan></text>
<text transform="translate(8.7,259.4) rotate(-90)" text-anchor="middle" class="yt" font-size="7.25">Mean LDMC <tspan class="par">(</tspan>mg.g<tspan class="sup" dy="-2.8">-1</tspan><tspan dy="2.8"><tspan class="par">)</tspan></tspan></text>
<text transform="translate(7.4,364.6) rotate(-90)" text-anchor="middle" class="yt" font-size="7.4">Mean Leaf area <tspan class="par">(</tspan>cm<tspan class="sup" dy="-2.8">2</tspan><tspan dy="2.8"><tspan class="par">)</tspan></tspan></text>
<text x="342.9" y="418.0" text-anchor="middle" class="xt" transform="translate(342.9,0) scale(0.806,1) translate(-342.9,0)">Alien species abundance (%)</text>
</svg>
</body></html>
